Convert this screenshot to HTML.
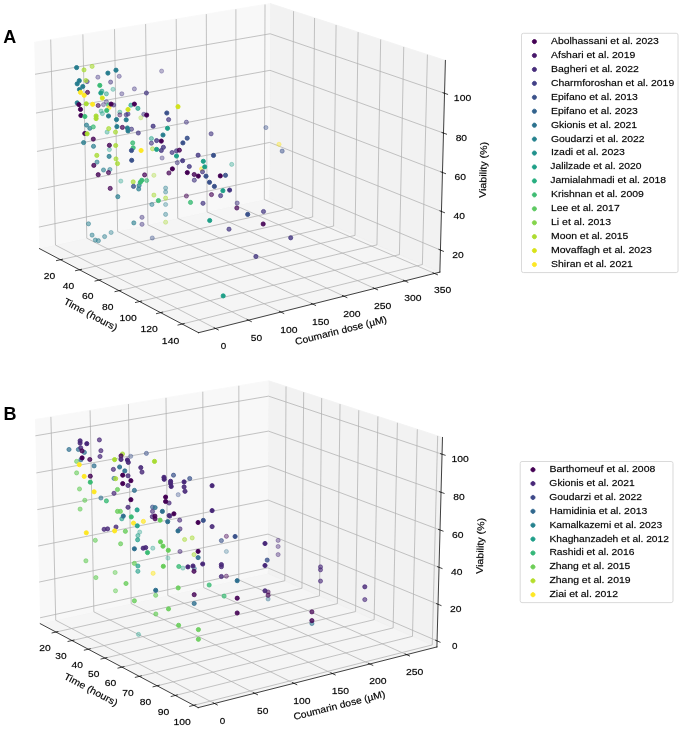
<!DOCTYPE html><html><head><meta charset="utf-8"><style>html,body{margin:0;padding:0;background:#fff;overflow:hidden}svg{display:block;filter:blur(0.3px)} text{stroke:#000;stroke-width:0.32px;stroke-opacity:0.55} text[style*="font-weight: 700"]{stroke:none}</style></head><body><svg width="685" height="731" viewBox="0 0 736.1194 785.5522" version="1.1">
 
 <defs>
  <style type="text/css">*{stroke-linejoin: round; stroke-linecap: butt}</style>
 </defs>
 <g id="figure_1">
  <g id="patch_1">
   <path d="M 0 785.552239 
L 736.119403 785.552239 
L 736.119403 0 
L 0 0 
z
" style="fill: #ffffff"/>
  </g>
  <g id="patch_2">
   <path d="M 4.734215 418.598893 
L 491.144343 418.598893 
L 491.144343 -1 
M 4.734215 -1 
L 4.734215 418.598893 
" style="fill: none"/>
  </g>
  <g id="pane3d_1">
   <g id="patch_3">
    <path d="M 42.357343 267.132373 
L 289.60652 213.12648 
L 290.478585 3.885279 
L 36.736233 45.462041 
" style="fill: #f2f2f2; opacity: 0.5; stroke: #f2f2f2; stroke-linejoin: miter"/>
   </g>
  </g>
  <g id="pane3d_2">
   <g id="patch_4">
    <path d="M 289.60652 213.12648 
L 472.685421 292.404207 
L 478.634422 64.963619 
L 290.478585 3.885279 
" style="fill: #e6e6e6; opacity: 0.5; stroke: #e6e6e6; stroke-linejoin: miter"/>
   </g>
  </g>
  <g id="pane3d_3">
   <g id="patch_5">
    <path d="M 42.357343 267.132373 
L 213.363258 357.524301 
L 472.685421 292.404207 
L 289.60652 213.12648 
" style="fill: #ececec; opacity: 0.5; stroke: #ececec; stroke-linejoin: miter"/>
   </g>
  </g>
  <g id="grid3d_1">
   <g id="Line3DCollection_1">
    <path d="M 64.987074 279.094211 
L 313.963087 223.67348 
L 315.459481 11.99447 
" style="fill: none; stroke: #b0b0b0; stroke-width: 0.8"/>
    <path d="M 85.472381 289.922529 
L 335.977456 233.206251 
L 338.051611 19.32823 
" style="fill: none; stroke: #b0b0b0; stroke-width: 0.8"/>
    <path d="M 106.455015 301.013728 
L 358.492722 242.955922 
L 361.171026 26.833155 
" style="fill: none; stroke: #b0b0b0; stroke-width: 0.8"/>
    <path d="M 127.95331 312.377501 
L 381.526177 252.929982 
L 384.836401 34.515308 
" style="fill: none; stroke: #b0b0b0; stroke-width: 0.8"/>
    <path d="M 149.98651 324.024019 
L 405.095919 263.136268 
L 409.067307 42.38104 
" style="fill: none; stroke: #b0b0b0; stroke-width: 0.8"/>
    <path d="M 172.574833 335.963968 
L 429.220897 273.582985 
L 433.884261 50.437013 
" style="fill: none; stroke: #b0b0b0; stroke-width: 0.8"/>
    <path d="M 195.739523 348.20858 
L 453.920966 284.27873 
L 459.308785 58.690213 
" style="fill: none; stroke: #b0b0b0; stroke-width: 0.8"/>
   </g>
  </g>
  <g id="grid3d_2">
   <g id="Line3DCollection_2">
    <path d="M 54.480291 42.554602 
L 59.621548 263.361405 
L 231.574004 352.951281 
" style="fill: none; stroke: #b0b0b0; stroke-width: 0.8"/>
    <path d="M 89.0617 36.888291 
L 93.278902 256.009731 
L 267.031769 344.047248 
" style="fill: none; stroke: #b0b0b0; stroke-width: 0.8"/>
    <path d="M 123.059936 31.317536 
L 126.383013 248.778899 
L 301.848904 335.304088 
" style="fill: none; stroke: #b0b0b0; stroke-width: 0.8"/>
    <path d="M 156.489627 25.839939 
L 158.947411 241.665956 
L 336.042613 326.717481 
" style="fill: none; stroke: #b0b0b0; stroke-width: 0.8"/>
    <path d="M 189.364915 20.453183 
L 190.985189 234.66804 
L 369.629492 318.283259 
" style="fill: none; stroke: #b0b0b0; stroke-width: 0.8"/>
    <path d="M 221.699479 15.155027 
L 222.509019 227.782385 
L 402.625554 309.997401 
" style="fill: none; stroke: #b0b0b0; stroke-width: 0.8"/>
    <path d="M 253.506551 9.943304 
L 253.531169 221.006311 
L 435.046252 301.856026 
" style="fill: none; stroke: #b0b0b0; stroke-width: 0.8"/>
    <path d="M 284.798933 4.815914 
L 284.06352 214.337221 
L 466.906505 293.855388 
" style="fill: none; stroke: #b0b0b0; stroke-width: 0.8"/>
   </g>
  </g>
  <g id="grid3d_3">
   <g id="Line3DCollection_3">
    <path d="M 473.304964 268.718 
L 289.697531 191.289553 
L 41.771553 244.031541 
" style="fill: none; stroke: #b0b0b0; stroke-width: 0.8"/>
    <path d="M 474.390198 227.227646 
L 289.856844 153.064366 
L 40.745664 203.575288 
" style="fill: none; stroke: #b0b0b0; stroke-width: 0.8"/>
    <path d="M 475.486251 185.323648 
L 290.017606 114.491449 
L 39.709834 162.726965 
" style="fill: none; stroke: #b0b0b0; stroke-width: 0.8"/>
    <path d="M 476.593286 142.999788 
L 290.179838 75.566036 
L 38.663916 121.480844 
" style="fill: none; stroke: #b0b0b0; stroke-width: 0.8"/>
    <path d="M 477.711469 100.249724 
L 290.343558 36.283273 
L 37.607762 79.831085 
" style="fill: none; stroke: #b0b0b0; stroke-width: 0.8"/>
   </g>
  </g>
  <g id="axis3d_1">
   <g id="line2d_1">
    <path d="M 42.357343 267.132373 
L 213.363258 357.524301 
" style="fill: none; stroke: #000000; stroke-width: 0.8; stroke-linecap: square"/>
   </g>
   <g id="xtick_1">
    <g id="line2d_2">
     <path d="M 67.108029 278.622098 
L 60.738499 280.039921 
" style="fill: none; stroke: #000000; stroke-width: 0.8; stroke-linecap: square"/>
    </g>
    <g id="text_1">
     <text style="font-size: 10.300px; font-family: 'Liberation Sans', sans-serif; text-anchor: middle" x="53.149964" y="299.315552" transform="rotate(-0 53.149964 299.315552)" dx="-0.028" textLength="12.317" lengthAdjust="spacingAndGlyphs">20</text>
    </g>
   </g>
   <g id="xtick_2">
    <g id="line2d_3">
     <path d="M 87.607919 289.439026 
L 81.194513 290.891071 
" style="fill: none; stroke: #000000; stroke-width: 0.8; stroke-linecap: square"/>
    </g>
    <g id="text_2">
     <text style="font-size: 10.300px; font-family: 'Liberation Sans', sans-serif; text-anchor: middle" x="73.530043" y="310.315084" transform="rotate(-0 73.530043 310.315084)" dx="0.001" textLength="12.255" lengthAdjust="spacingAndGlyphs">40</text>
    </g>
   </g>
   <g id="xtick_3">
    <g id="line2d_4">
     <path d="M 108.605224 300.51842 
L 102.147676 302.005939 
" style="fill: none; stroke: #000000; stroke-width: 0.8; stroke-linecap: square"/>
    </g>
    <g id="text_3">
     <text style="font-size: 10.300px; font-family: 'Liberation Sans', sans-serif; text-anchor: middle" x="94.4058" y="321.582143" transform="rotate(-0 94.4058 321.582143)" dx="-0.048" textLength="12.360" lengthAdjust="spacingAndGlyphs">60</text>
    </g>
   </g>
   <g id="xtick_4">
    <g id="line2d_5">
     <path d="M 130.11827 311.869948 
L 123.616335 313.394259 
" style="fill: none; stroke: #000000; stroke-width: 0.8; stroke-linecap: square"/>
    </g>
    <g id="text_4">
     <text style="font-size: 10.300px; font-family: 'Liberation Sans', sans-serif; text-anchor: middle" x="115.795539" y="333.126608" transform="rotate(-0 115.795539 333.126608)" dx="-0.018" textLength="12.294" lengthAdjust="spacingAndGlyphs">80</text>
    </g>
   </g>
   <g id="xtick_5">
    <g id="line2d_6">
     <path d="M 152.166296 323.503763 
L 145.619749 325.066247 
" style="fill: none; stroke: #000000; stroke-width: 0.8; stroke-linecap: square"/>
    </g>
    <g id="text_5">
     <text style="font-size: 10.300px; font-family: 'Liberation Sans', sans-serif; text-anchor: middle" x="137.718481" y="344.958853" transform="rotate(-0 137.718481 344.958853)" dx="0.009" textLength="18.610" lengthAdjust="spacingAndGlyphs">100</text>
    </g>
   </g>
   <g id="xtick_6">
    <g id="line2d_7">
     <path d="M 174.769507 335.430526 
L 168.178152 337.032636 
" style="fill: none; stroke: #000000; stroke-width: 0.8; stroke-linecap: square"/>
    </g>
    <g id="text_6">
     <text style="font-size: 10.300px; font-family: 'Liberation Sans', sans-serif; text-anchor: middle" x="160.194814" y="357.089775" transform="rotate(-0 160.194814 357.089775)" dx="0.009" textLength="18.610" lengthAdjust="spacingAndGlyphs">120</text>
    </g>
   </g>
   <g id="xtick_7">
    <g id="line2d_8">
     <path d="M 197.949142 347.661443 
L 191.312809 349.304705 
" style="fill: none; stroke: #000000; stroke-width: 0.8; stroke-linecap: square"/>
    </g>
    <g id="text_7">
     <text style="font-size: 10.300px; font-family: 'Liberation Sans', sans-serif; text-anchor: middle" x="183.245759" y="369.530826" transform="rotate(-0 183.245759 369.530826)" dx="0.009" textLength="18.610" lengthAdjust="spacingAndGlyphs">140</text>
    </g>
   </g>
   <g id="text_8">
    <text style="font-size: 10.300px; font-family: 'Liberation Sans', sans-serif; text-anchor: middle" x="96.001624" y="341.158905" transform="rotate(-332.139541 96.001624 341.158905)" dx="-0.222" textLength="63.687" lengthAdjust="spacingAndGlyphs">Time (hours)</text>
   </g>
  </g>
  <g id="axis3d_2">
   <g id="line2d_9">
    <path d="M 472.685421 292.404207 
L 213.363258 357.524301 
" style="fill: none; stroke: #000000; stroke-width: 0.8; stroke-linecap: square"/>
   </g>
   <g id="xtick_8">
    <g id="line2d_10">
     <path d="M 230.060688 352.16282 
L 234.607983 354.53203 
" style="fill: none; stroke: #000000; stroke-width: 0.8; stroke-linecap: square"/>
    </g>
    <g id="text_9">
     <text style="font-size: 10.300px; font-family: 'Liberation Sans', sans-serif; text-anchor: middle" x="240.07489" y="375.449439" transform="rotate(-0 240.07489 375.449439)" dx="-0.002" textLength="5.863" lengthAdjust="spacingAndGlyphs">0</text>
    </g>
   </g>
   <g id="xtick_9">
    <g id="line2d_11">
     <path d="M 265.503876 343.273091 
L 270.094907 345.599285 
" style="fill: none; stroke: #000000; stroke-width: 0.8; stroke-linecap: square"/>
    </g>
    <g id="text_10">
     <text style="font-size: 10.300px; font-family: 'Liberation Sans', sans-serif; text-anchor: middle" x="275.569192" y="366.380443" transform="rotate(-0 275.569192 366.380443)" dx="0.048" textLength="12.152" lengthAdjust="spacingAndGlyphs">50</text>
    </g>
   </g>
   <g id="xtick_10">
    <g id="line2d_12">
     <path d="M 300.307204 334.54385 
L 304.939653 336.828189 
" style="fill: none; stroke: #000000; stroke-width: 0.8; stroke-linecap: square"/>
    </g>
    <g id="text_11">
     <text style="font-size: 10.300px; font-family: 'Liberation Sans', sans-serif; text-anchor: middle" x="310.420155" y="357.475825" transform="rotate(-0 310.420155 357.475825)" dx="0.009" textLength="18.610" lengthAdjust="spacingAndGlyphs">100</text>
    </g>
   </g>
   <g id="xtick_11">
    <g id="line2d_13">
     <path d="M 334.487843 325.970789 
L 339.159498 328.214393 
" style="fill: none; stroke: #000000; stroke-width: 0.8; stroke-linecap: square"/>
    </g>
    <g id="text_12">
     <text style="font-size: 10.300px; font-family: 'Liberation Sans', sans-serif; text-anchor: middle" x="344.645111" y="348.731154" transform="rotate(-0 344.645111 348.731154)" dx="0.009" textLength="18.610" lengthAdjust="spacingAndGlyphs">150</text>
    </g>
   </g>
   <g id="xtick_12">
    <g id="line2d_14">
     <path d="M 368.062356 317.549754 
L 372.771102 319.753702 
" style="fill: none; stroke: #000000; stroke-width: 0.8; stroke-linecap: square"/>
    </g>
    <g id="text_13">
     <text style="font-size: 10.300px; font-family: 'Liberation Sans', sans-serif; text-anchor: middle" x="378.260778" y="340.142161" transform="rotate(-0 378.260778 340.142161)" dx="-0.029" textLength="18.690" lengthAdjust="spacingAndGlyphs">200</text>
    </g>
   </g>
   <g id="xtick_13">
    <g id="line2d_15">
     <path d="M 401.046726 309.276737 
L 405.790538 311.442072 
" style="fill: none; stroke: #000000; stroke-width: 0.8; stroke-linecap: square"/>
    </g>
    <g id="text_14">
     <text style="font-size: 10.300px; font-family: 'Liberation Sans', sans-serif; text-anchor: middle" x="411.283283" y="331.704724" transform="rotate(-0 411.283283 331.704724)" dx="-0.029" textLength="18.690" lengthAdjust="spacingAndGlyphs">250</text>
    </g>
   </g>
   <g id="xtick_14">
    <g id="line2d_16">
     <path d="M 433.456375 301.14787 
L 438.233319 303.275597 
" style="fill: none; stroke: #000000; stroke-width: 0.8; stroke-linecap: square"/>
    </g>
    <g id="text_15">
     <text style="font-size: 10.300px; font-family: 'Liberation Sans', sans-serif; text-anchor: middle" x="443.728187" y="323.414866" transform="rotate(-0 443.728187 323.414866)" dx="0.054" textLength="18.516" lengthAdjust="spacingAndGlyphs">300</text>
    </g>
   </g>
   <g id="xtick_15">
    <g id="line2d_17">
     <path d="M 465.306196 293.159416 
L 470.114421 295.250507 
" style="fill: none; stroke: #000000; stroke-width: 0.8; stroke-linecap: square"/>
    </g>
    <g id="text_16">
     <text style="font-size: 10.300px; font-family: 'Liberation Sans', sans-serif; text-anchor: middle" x="475.610515" y="315.268751" transform="rotate(-0 475.610515 315.268751)" dx="0.054" textLength="18.516" lengthAdjust="spacingAndGlyphs">350</text>
    </g>
   </g>
   <g id="text_17">
    <text style="font-size: 10.300px; font-family: 'Liberation Sans', sans-serif; text-anchor: middle" x="367.273611" y="358.420597" transform="rotate(-14.09644 367.273611 358.420597)" dx="-0.090" textLength="101.340" lengthAdjust="spacingAndGlyphs">Coumarin dose (µM)</text>
   </g>
  </g>
  <g id="axis3d_3">
   <g id="line2d_18">
    <path d="M 472.685421 292.404207 
L 478.634422 64.963619 
" style="fill: none; stroke: #000000; stroke-width: 0.8; stroke-linecap: square"/>
   </g>
   <g id="xtick_16">
    <g id="line2d_19">
     <path d="M 471.697791 268.040245 
L 476.526649 270.076605 
" style="fill: none; stroke: #000000; stroke-width: 0.8; stroke-linecap: square"/>
    </g>
    <g id="text_18">
     <text style="font-size: 10.300px; font-family: 'Liberation Sans', sans-serif; text-anchor: middle" x="492.247822" y="277.400089" transform="rotate(-0 492.247822 277.400089)" dx="-0.028" textLength="12.317" lengthAdjust="spacingAndGlyphs">20</text>
    </g>
   </g>
   <g id="xtick_17">
    <g id="line2d_20">
     <path d="M 472.774231 226.578195 
L 477.629547 228.529529 
" style="fill: none; stroke: #000000; stroke-width: 0.8; stroke-linecap: square"/>
    </g>
    <g id="text_19">
     <text style="font-size: 10.300px; font-family: 'Liberation Sans', sans-serif; text-anchor: middle" x="493.428453" y="235.864491" transform="rotate(-0 493.428453 235.864491)" dx="0.001" textLength="12.255" lengthAdjust="spacingAndGlyphs">40</text>
    </g>
   </g>
   <g id="xtick_18">
    <g id="line2d_21">
     <path d="M 473.861394 184.7031 
L 478.743458 186.567605 
" style="fill: none; stroke: #000000; stroke-width: 0.8; stroke-linecap: square"/>
    </g>
    <g id="text_20">
     <text style="font-size: 10.300px; font-family: 'Liberation Sans', sans-serif; text-anchor: middle" x="494.620869" y="193.914289" transform="rotate(-0 494.620869 193.914289)" dx="-0.048" textLength="12.360" lengthAdjust="spacingAndGlyphs">60</text>
    </g>
   </g>
   <g id="xtick_19">
    <g id="line2d_22">
     <path d="M 474.959442 142.408756 
L 479.868546 144.18459 
" style="fill: none; stroke: #000000; stroke-width: 0.8; stroke-linecap: square"/>
    </g>
    <g id="text_21">
     <text style="font-size: 10.300px; font-family: 'Liberation Sans', sans-serif; text-anchor: middle" x="495.825247" y="151.543244" transform="rotate(-0 495.825247 151.543244)" dx="-0.018" textLength="12.294" lengthAdjust="spacingAndGlyphs">80</text>
    </g>
   </g>
   <g id="xtick_20">
    <g id="line2d_23">
     <path d="M 476.068539 99.688837 
L 481.004982 101.374113 
" style="fill: none; stroke: #000000; stroke-width: 0.8; stroke-linecap: square"/>
    </g>
    <g id="text_22">
     <text style="font-size: 10.300px; font-family: 'Liberation Sans', sans-serif; text-anchor: middle" x="497.041769" y="108.744992" transform="rotate(-0 497.041769 108.744992)" dx="0.009" textLength="18.610" lengthAdjust="spacingAndGlyphs">100</text>
    </g>
   </g>
   <g id="text_23">
    <text style="font-size: 10.300px; font-family: 'Liberation Sans', sans-serif; text-anchor: middle" x="522.770266" y="182.572969" transform="rotate(-88.501697 522.770266 182.572969)" dx="-0.060" textLength="60.351" lengthAdjust="spacingAndGlyphs">Viability (%)</text>
   </g>
  </g>
  <g id="axes_1"/>
  <g id="patch_6">
   <path d="M 487.790977 786.552239 
L 487.790977 338.560933 
L 6.008628 338.560933 
L 6.008628 786.552239 
" style="fill: none"/>
  </g>
  <g id="pane3d_4">
   <g id="patch_7">
    <path d="M 43.26968 670.21701 
L 287.825924 616.21114 
L 288.696914 409.237198 
L 37.594792 450.821977 
" style="fill: #f2f2f2; opacity: 0.5; stroke: #f2f2f2; stroke-linejoin: miter"/>
   </g>
  </g>
  <g id="pane3d_5">
   <g id="patch_8">
    <path d="M 287.825924 616.21114 
L 469.515405 695.224877 
L 475.521604 470.124824 
L 288.696914 409.237198 
" style="fill: #e6e6e6; opacity: 0.5; stroke: #e6e6e6; stroke-linejoin: miter"/>
   </g>
  </g>
  <g id="pane3d_6">
   <g id="patch_9">
    <path d="M 43.26968 670.21701 
L 212.993053 760.449039 
L 469.515405 695.224877 
L 287.825924 616.21114 
" style="fill: #ececec; opacity: 0.5; stroke: #ececec; stroke-linejoin: miter"/>
   </g>
  </g>
  <g id="grid3d_4">
   <g id="Line3DCollection_4">
    <path d="M 60.183725 679.209222 
L 306.034734 624.129849 
L 307.37963 415.326041 
" style="fill: none; stroke: #b0b0b0; stroke-width: 0.8"/>
    <path d="M 77.364914 688.343459 
L 324.507844 632.163498 
L 326.342782 421.50628 
" style="fill: none; stroke: #b0b0b0; stroke-width: 0.8"/>
    <path d="M 94.90239 697.667113 
L 343.339866 640.353232 
L 345.68397 427.809725 
" style="fill: none; stroke: #b0b0b0; stroke-width: 0.8"/>
    <path d="M 112.807353 707.186139 
L 362.541364 648.703644 
L 365.414614 434.240096 
" style="fill: none; stroke: #b0b0b0; stroke-width: 0.8"/>
    <path d="M 131.091475 716.906741 
L 382.123318 657.219511 
L 385.546596 440.801266 
" style="fill: none; stroke: #b0b0b0; stroke-width: 0.8"/>
    <path d="M 149.766928 726.835392 
L 402.097149 665.905798 
L 406.092288 447.497267 
" style="fill: none; stroke: #b0b0b0; stroke-width: 0.8"/>
    <path d="M 168.846413 736.978842 
L 422.474739 674.767673 
L 427.064573 454.332299 
" style="fill: none; stroke: #b0b0b0; stroke-width: 0.8"/>
    <path d="M 188.343184 747.344139 
L 443.268455 683.810515 
L 448.476879 461.310737 
" style="fill: none; stroke: #b0b0b0; stroke-width: 0.8"/>
    <path d="M 208.271081 757.938641 
L 464.491177 693.039924 
L 470.343199 468.437141 
" style="fill: none; stroke: #b0b0b0; stroke-width: 0.8"/>
   </g>
  </g>
  <g id="grid3d_5">
   <g id="Line3DCollection_5">
    <path d="M 54.697871 447.989552 
L 59.901251 666.544225 
L 230.540419 755.987391 
" style="fill: none; stroke: #b0b0b0; stroke-width: 0.8"/>
    <path d="M 96.804651 441.016289 
L 100.863169 657.498518 
L 273.694057 745.015015 
" style="fill: none; stroke: #b0b0b0; stroke-width: 0.8"/>
    <path d="M 138.029478 434.189086 
L 140.989122 648.63742 
L 315.879239 734.288881 
" style="fill: none; stroke: #b0b0b0; stroke-width: 0.8"/>
    <path d="M 178.399777 427.5034 
L 180.304443 639.955335 
L 357.128206 723.800792 
" style="fill: none; stroke: #b0b0b0; stroke-width: 0.8"/>
    <path d="M 217.941843 420.954877 
L 218.833452 631.446893 
L 397.471781 713.54291 
" style="fill: none; stroke: #b0b0b0; stroke-width: 0.8"/>
    <path d="M 256.680905 414.539338 
L 256.599505 623.106936 
L 436.939451 703.50774 
" style="fill: none; stroke: #b0b0b0; stroke-width: 0.8"/>
   </g>
  </g>
  <g id="grid3d_6">
   <g id="Line3DCollection_6">
    <path d="M 469.689067 688.716366 
L 287.851167 610.212642 
L 43.105475 663.868728 
" style="fill: none; stroke: #b0b0b0; stroke-width: 0.8"/>
    <path d="M 470.738897 649.37091 
L 288.003691 573.968223 
L 42.112972 625.497889 
" style="fill: none; stroke: #b0b0b0; stroke-width: 0.8"/>
    <path d="M 471.798967 609.641621 
L 288.157572 537.401352 
L 41.111056 586.763161 
" style="fill: none; stroke: #b0b0b0; stroke-width: 0.8"/>
    <path d="M 472.869431 569.522853 
L 288.312828 500.507707 
L 40.099594 547.659345 
" style="fill: none; stroke: #b0b0b0; stroke-width: 0.8"/>
    <path d="M 473.95044 529.008853 
L 288.469478 463.282889 
L 39.078448 508.181138 
" style="fill: none; stroke: #b0b0b0; stroke-width: 0.8"/>
    <path d="M 475.042151 488.09375 
L 288.627541 425.722418 
L 38.047478 468.323139 
" style="fill: none; stroke: #b0b0b0; stroke-width: 0.8"/>
   </g>
  </g>
  <g id="axis3d_4">
   <g id="line2d_24">
    <path d="M 43.26968 670.21701 
L 212.993053 760.449039 
" style="fill: none; stroke: #000000; stroke-width: 0.8; stroke-linecap: square"/>
   </g>
   <g id="xtick_21">
    <g id="line2d_25">
     <path d="M 62.279162 678.739769 
L 55.986208 680.149615 
" style="fill: none; stroke: #000000; stroke-width: 0.8; stroke-linecap: square"/>
    </g>
    <g id="text_24">
     <text style="font-size: 10.300px; font-family: 'Liberation Sans', sans-serif; text-anchor: middle" x="48.387131" y="699.400597" transform="rotate(-0 48.387131 699.400597)" dx="-0.028" textLength="12.317" lengthAdjust="spacingAndGlyphs">20</text>
    </g>
   </g>
   <g id="xtick_22">
    <g id="line2d_26">
     <path d="M 79.472689 687.864324 
L 73.142614 689.303262 
" style="fill: none; stroke: #000000; stroke-width: 0.8; stroke-linecap: square"/>
    </g>
    <g id="text_25">
     <text style="font-size: 10.300px; font-family: 'Liberation Sans', sans-serif; text-anchor: middle" x="65.478439" y="708.680993" transform="rotate(-0 65.478439 708.680993)" dx="0.054" textLength="12.140" lengthAdjust="spacingAndGlyphs">30</text>
    </g>
   </g>
   <g id="xtick_23">
    <g id="line2d_27">
     <path d="M 97.022567 697.177994 
L 90.655177 698.646934 
" style="fill: none; stroke: #000000; stroke-width: 0.8; stroke-linecap: square"/>
    </g>
    <g id="text_26">
     <text style="font-size: 10.300px; font-family: 'Liberation Sans', sans-serif; text-anchor: middle" x="82.924826" y="718.154194" transform="rotate(-0 82.924826 718.154194)" dx="0.001" textLength="12.255" lengthAdjust="spacingAndGlyphs">40</text>
    </g>
   </g>
   <g id="xtick_24">
    <g id="line2d_28">
     <path d="M 114.939991 706.68672 
L 108.535105 708.18661 
" style="fill: none; stroke: #000000; stroke-width: 0.8; stroke-linecap: square"/>
    </g>
    <g id="text_27">
     <text style="font-size: 10.300px; font-family: 'Liberation Sans', sans-serif; text-anchor: middle" x="100.737472" y="727.826269" transform="rotate(-0 100.737472 727.826269)" dx="0.048" textLength="12.152" lengthAdjust="spacingAndGlyphs">50</text>
    </g>
   </g>
   <g id="xtick_25">
    <g id="line2d_29">
     <path d="M 133.236629 716.396693 
L 126.794078 717.928523 
" style="fill: none; stroke: #000000; stroke-width: 0.8; stroke-linecap: square"/>
    </g>
    <g id="text_28">
     <text style="font-size: 10.300px; font-family: 'Liberation Sans', sans-serif; text-anchor: middle" x="118.928033" y="737.703548" transform="rotate(-0 118.928033 737.703548)" dx="-0.048" textLength="12.360" lengthAdjust="spacingAndGlyphs">60</text>
    </g>
   </g>
   <g id="xtick_26">
    <g id="line2d_30">
     <path d="M 151.92465 726.314372 
L 145.44428 727.879172 
" style="fill: none; stroke: #000000; stroke-width: 0.8; stroke-linecap: square"/>
    </g>
    <g id="text_29">
     <text style="font-size: 10.300px; font-family: 'Liberation Sans', sans-serif; text-anchor: middle" x="137.508666" y="747.792632" transform="rotate(-0 137.508666 747.792632)" dx="0.011" textLength="12.233" lengthAdjust="spacingAndGlyphs">70</text>
    </g>
   </g>
   <g id="xtick_27">
    <g id="line2d_31">
     <path d="M 171.016746 736.446493 
L 164.498421 738.045339 
" style="fill: none; stroke: #000000; stroke-width: 0.8; stroke-linecap: square"/>
    </g>
    <g id="text_30">
     <text style="font-size: 10.300px; font-family: 'Liberation Sans', sans-serif; text-anchor: middle" x="156.492053" y="758.100407" transform="rotate(-0 156.492053 758.100407)" dx="-0.018" textLength="12.294" lengthAdjust="spacingAndGlyphs">80</text>
    </g>
   </g>
   <g id="xtick_28">
    <g id="line2d_32">
     <path d="M 190.526167 746.800086 
L 183.969768 748.434102 
" style="fill: none; stroke: #000000; stroke-width: 0.8; stroke-linecap: square"/>
    </g>
    <g id="text_31">
     <text style="font-size: 10.300px; font-family: 'Liberation Sans', sans-serif; text-anchor: middle" x="175.891433" y="768.634062" transform="rotate(-0 175.891433 768.634062)" dx="-0.061" textLength="12.388" lengthAdjust="spacingAndGlyphs">90</text>
    </g>
   </g>
   <g id="xtick_29">
    <g id="line2d_33">
     <path d="M 210.466747 757.382495 
L 203.872174 759.052853 
" style="fill: none; stroke: #000000; stroke-width: 0.8; stroke-linecap: square"/>
    </g>
    <g id="text_32">
     <text style="font-size: 10.300px; font-family: 'Liberation Sans', sans-serif; text-anchor: middle" x="195.720631" y="779.401103" transform="rotate(-0 195.720631 779.401103)" dx="0.009" textLength="18.610" lengthAdjust="spacingAndGlyphs">100</text>
    </g>
   </g>
   <g id="text_33">
    <text style="font-size: 10.300px; font-family: 'Liberation Sans', sans-serif; text-anchor: middle" x="96.28064" y="744.194837" transform="rotate(-332.003024 96.28064 744.194837)" dx="-0.222" textLength="63.687" lengthAdjust="spacingAndGlyphs">Time (hours)</text>
   </g>
  </g>
  <g id="axis3d_5">
   <g id="line2d_34">
    <path d="M 469.515405 695.224877 
L 212.993053 760.449039 
" style="fill: none; stroke: #000000; stroke-width: 0.8; stroke-linecap: square"/>
   </g>
   <g id="xtick_30">
    <g id="line2d_35">
     <path d="M 229.037375 755.199547 
L 233.553875 757.566941 
" style="fill: none; stroke: #000000; stroke-width: 0.8; stroke-linecap: square"/>
    </g>
    <g id="text_34">
     <text style="font-size: 10.300px; font-family: 'Liberation Sans', sans-serif; text-anchor: middle" x="239.065881" y="778.51864" transform="rotate(-0 239.065881 778.51864)" dx="-0.002" textLength="5.863" lengthAdjust="spacingAndGlyphs">0</text>
    </g>
   </g>
   <g id="xtick_31">
    <g id="line2d_36">
     <path d="M 272.173291 744.244944 
L 276.742957 746.558889 
" style="fill: none; stroke: #000000; stroke-width: 0.8; stroke-linecap: square"/>
    </g>
    <g id="text_35">
     <text style="font-size: 10.300px; font-family: 'Liberation Sans', sans-serif; text-anchor: middle" x="282.263324" y="767.34043" transform="rotate(-0 282.263324 767.34043)" dx="0.048" textLength="12.152" lengthAdjust="spacingAndGlyphs">50</text>
    </g>
   </g>
   <g id="xtick_32">
    <g id="line2d_37">
     <path d="M 314.341921 733.535988 
L 318.961241 735.798274 
" style="fill: none; stroke: #000000; stroke-width: 0.8; stroke-linecap: square"/>
    </g>
    <g id="text_36">
     <text style="font-size: 10.300px; font-family: 'Liberation Sans', sans-serif; text-anchor: middle" x="324.4882" y="756.41389" transform="rotate(-0 324.4882 756.41389)" dx="0.009" textLength="18.610" lengthAdjust="spacingAndGlyphs">100</text>
    </g>
   </g>
   <g id="xtick_33">
    <g id="line2d_38">
     <path d="M 355.57544 723.064509 
L 360.241095 725.276847 
" style="fill: none; stroke: #000000; stroke-width: 0.8; stroke-linecap: square"/>
    </g>
    <g id="text_37">
     <text style="font-size: 10.300px; font-family: 'Liberation Sans', sans-serif; text-anchor: middle" x="365.772988" y="745.730617" transform="rotate(-0 365.772988 745.730617)" dx="0.009" textLength="18.610" lengthAdjust="spacingAndGlyphs">150</text>
    </g>
   </g>
   <g id="xtick_34">
    <g id="line2d_39">
     <path d="M 395.904611 712.822693 
L 400.613464 714.98672 
" style="fill: none; stroke: #000000; stroke-width: 0.8; stroke-linecap: square"/>
    </g>
    <g id="text_38">
     <text style="font-size: 10.300px; font-family: 'Liberation Sans', sans-serif; text-anchor: middle" x="406.148738" y="735.282576" transform="rotate(-0 406.148738 735.282576)" dx="-0.029" textLength="18.690" lengthAdjust="spacingAndGlyphs">200</text>
    </g>
   </g>
   <g id="xtick_35">
    <g id="line2d_40">
     <path d="M 435.358865 702.803068 
L 440.107948 704.920348 
" style="fill: none; stroke: #000000; stroke-width: 0.8; stroke-linecap: square"/>
    </g>
    <g id="text_39">
     <text style="font-size: 10.300px; font-family: 'Liberation Sans', sans-serif; text-anchor: middle" x="445.645147" y="725.062083" transform="rotate(-0 445.645147 725.062083)" dx="-0.029" textLength="18.690" lengthAdjust="spacingAndGlyphs">250</text>
    </g>
   </g>
   <g id="text_40">
    <text style="font-size: 10.300px; font-family: 'Liberation Sans', sans-serif; text-anchor: middle" x="365.568915" y="761.328256" transform="rotate(-14.2659 365.568915 761.328256)" dx="-0.090" textLength="101.340" lengthAdjust="spacingAndGlyphs">Coumarin dose (µM)</text>
   </g>
  </g>
  <g id="axis3d_6">
   <g id="line2d_41">
    <path d="M 469.515405 695.224877 
L 475.521604 470.124824 
" style="fill: none; stroke: #000000; stroke-width: 0.8; stroke-linecap: square"/>
   </g>
   <g id="xtick_36">
    <g id="line2d_42">
     <path d="M 468.0965 688.028817 
L 472.881521 690.094624 
" style="fill: none; stroke: #000000; stroke-width: 0.8; stroke-linecap: square"/>
    </g>
    <g id="text_41">
     <text style="font-size: 10.300px; font-family: 'Liberation Sans', sans-serif; text-anchor: middle" x="488.593945" y="697.415975" transform="rotate(-0 488.593945 697.415975)" dx="-0.002" textLength="5.863" lengthAdjust="spacingAndGlyphs">0</text>
    </g>
   </g>
   <g id="xtick_37">
    <g id="line2d_43">
     <path d="M 469.137799 648.710243 
L 473.948487 650.695295 
" style="fill: none; stroke: #000000; stroke-width: 0.8; stroke-linecap: square"/>
    </g>
    <g id="text_42">
     <text style="font-size: 10.300px; font-family: 'Liberation Sans', sans-serif; text-anchor: middle" x="489.736944" y="658.027475" transform="rotate(-0 489.736944 658.027475)" dx="-0.028" textLength="12.317" lengthAdjust="spacingAndGlyphs">20</text>
    </g>
   </g>
   <g id="xtick_38">
    <g id="line2d_44">
     <path d="M 470.189248 609.008394 
L 475.025878 610.911012 
" style="fill: none; stroke: #000000; stroke-width: 0.8; stroke-linecap: square"/>
    </g>
    <g id="text_43">
     <text style="font-size: 10.300px; font-family: 'Liberation Sans', sans-serif; text-anchor: middle" x="490.891107" y="618.254247" transform="rotate(-0 490.891107 618.254247)" dx="0.001" textLength="12.255" lengthAdjust="spacingAndGlyphs">40</text>
    </g>
   </g>
   <g id="xtick_39">
    <g id="line2d_45">
     <path d="M 471.250997 568.917638 
L 476.113847 570.736106 
" style="fill: none; stroke: #000000; stroke-width: 0.8; stroke-linecap: square"/>
    </g>
    <g id="text_44">
     <text style="font-size: 10.300px; font-family: 'Liberation Sans', sans-serif; text-anchor: middle" x="492.056599" y="578.090625" transform="rotate(-0 492.056599 578.090625)" dx="-0.048" textLength="12.360" lengthAdjust="spacingAndGlyphs">60</text>
    </g>
   </g>
   <g id="xtick_40">
    <g id="line2d_46">
     <path d="M 472.323197 528.432233 
L 477.212551 530.164796 
" style="fill: none; stroke: #000000; stroke-width: 0.8; stroke-linecap: square"/>
    </g>
    <g id="text_45">
     <text style="font-size: 10.300px; font-family: 'Liberation Sans', sans-serif; text-anchor: middle" x="493.233587" y="537.530835" transform="rotate(-0 493.233587 537.530835)" dx="-0.018" textLength="12.294" lengthAdjust="spacingAndGlyphs">80</text>
    </g>
   </g>
   <g id="xtick_41">
    <g id="line2d_47">
     <path d="M 473.406005 487.546322 
L 478.32215 489.191185 
" style="fill: none; stroke: #000000; stroke-width: 0.8; stroke-linecap: square"/>
    </g>
    <g id="text_46">
     <text style="font-size: 10.300px; font-family: 'Liberation Sans', sans-serif; text-anchor: middle" x="494.422242" y="496.568986" transform="rotate(-0 494.422242 496.568986)" dx="0.009" textLength="18.610" lengthAdjust="spacingAndGlyphs">100</text>
    </g>
   </g>
   <g id="text_47">
    <text style="font-size: 10.300px; font-family: 'Liberation Sans', sans-serif; text-anchor: middle" x="519.642295" y="586.576781" transform="rotate(-88.471576 519.642295 586.576781)" dx="-0.060" textLength="60.351" lengthAdjust="spacingAndGlyphs">Viability (%)</text>
   </g>
  </g>
  <g id="axes_2"/>
  <g id="axes_3">
   <g id="PathCollection_1"/>
   <g id="PathCollection_2"/>
   <g id="PathCollection_3"/>
   <g id="PathCollection_4"/>
   <g id="PathCollection_5"/>
   <g id="PathCollection_6"/>
   <g id="PathCollection_7"/>
   <g id="PathCollection_8"/>
   <g id="PathCollection_9"/>
   <g id="PathCollection_10"/>
   <g id="PathCollection_11"/>
   <g id="PathCollection_12"/>
   <g id="PathCollection_13"/>
   <g id="PathCollection_14"/>
   <g id="PathCollection_15"/>
   <g id="PathCollection_16"/>
   <g id="PathCollection_17"/>
  </g>
  <g id="axes_4">
   <g id="PathCollection_18"/>
   <g id="PathCollection_19"/>
   <g id="PathCollection_20"/>
   <g id="PathCollection_21"/>
   <g id="PathCollection_22"/>
   <g id="PathCollection_23"/>
   <g id="PathCollection_24"/>
   <g id="PathCollection_25"/>
   <g id="PathCollection_26"/>
   <g id="PathCollection_27"/>
  </g>
  <g id="text_48">
   <text style="font-weight: 700; font-size: 19.343px; font-family: 'Liberation Sans', sans-serif; text-anchor: start" x="3.438806" y="45.671642" transform="rotate(-0 3.438806 45.671642)">A</text>
  </g>
  <g id="text_49">
   <text style="font-weight: 700; font-size: 19.343px; font-family: 'Liberation Sans', sans-serif; text-anchor: start" x="3.761194" y="451.343284" transform="rotate(-0 3.761194 451.343284)">B</text>
  </g>
  <g id="legend_1">
   <g id="patch_10">
    <path d="M 562.39791 292.915918 
L 726.662114 292.915918 
Q 728.642114 292.915918 728.642114 290.935918 
L 728.642114 37.765075 
Q 728.642114 35.785075 726.662114 35.785075 
L 562.39791 35.785075 
Q 560.41791 35.785075 560.41791 37.765075 
L 560.41791 290.935918 
Q 560.41791 292.915918 562.39791 292.915918 
z
" style="fill: #ffffff; opacity: 0.8; stroke: #cccccc; stroke-linejoin: miter"/>
   </g>
   <g id="PathCollection_28">
    <defs>
     <path id="md49803a651" d="M 0 2.236068 
C 0.593012 2.236068 1.161816 2.000462 1.581139 1.581139 
C 2.000462 1.161816 2.236068 0.593012 2.236068 0 
C 2.236068 -0.593012 2.000462 -1.161816 1.581139 -1.581139 
C 1.161816 -2.000462 0.593012 -2.236068 0 -2.236068 
C -0.593012 -2.236068 -1.161816 -2.000462 -1.581139 -1.581139 
C -2.000462 -1.161816 -2.236068 -0.593012 -2.236068 0 
C -2.236068 0.593012 -2.000462 1.161816 -1.581139 1.581139 
C -1.161816 2.000462 -0.593012 2.236068 0 2.236068 
z
" style="stroke: #440154"/>
    </defs>
    <g>
     <use href="#md49803a651" x="574.27791" y="44.668778" style="fill: #440154; stroke: #440154"/>
    </g>
   </g>
   <g id="text_50">
    <text style="font-size: 10.197px; font-family: 'Liberation Sans', sans-serif; text-anchor: start" x="592.09791" y="47.267528" transform="rotate(-0 592.09791 47.267528)" dx="0.055" textLength="115.819" lengthAdjust="spacingAndGlyphs">Abolhassani et al. 2023</text>
   </g>
   <g id="PathCollection_29">
    <defs>
     <path id="m46557fef45" d="M 0 2.236068 
C 0.593012 2.236068 1.161816 2.000462 1.581139 1.581139 
C 2.000462 1.161816 2.236068 0.593012 2.236068 0 
C 2.236068 -0.593012 2.000462 -1.161816 1.581139 -1.581139 
C 1.161816 -2.000462 0.593012 -2.236068 0 -2.236068 
C -0.593012 -2.236068 -1.161816 -2.000462 -1.581139 -1.581139 
C -2.000462 -1.161816 -2.236068 -0.593012 -2.236068 0 
C -2.236068 0.593012 -2.000462 1.161816 -1.581139 1.581139 
C -1.161816 2.000462 -0.593012 2.236068 0 2.236068 
z
" style="stroke: #48186a"/>
    </defs>
    <g>
     <use href="#m46557fef45" x="574.27791" y="59.645622" style="fill: #48186a; stroke: #48186a"/>
    </g>
   </g>
   <g id="text_51">
    <text style="font-size: 10.197px; font-family: 'Liberation Sans', sans-serif; text-anchor: start" x="592.09791" y="62.244372" transform="rotate(-0 592.09791 62.244372)" dx="0.055" textLength="90.567" lengthAdjust="spacingAndGlyphs">Afshari et al. 2019</text>
   </g>
   <g id="PathCollection_30">
    <defs>
     <path id="mb98866baf7" d="M 0 2.236068 
C 0.593012 2.236068 1.161816 2.000462 1.581139 1.581139 
C 2.000462 1.161816 2.236068 0.593012 2.236068 0 
C 2.236068 -0.593012 2.000462 -1.161816 1.581139 -1.581139 
C 1.161816 -2.000462 0.593012 -2.236068 0 -2.236068 
C -0.593012 -2.236068 -1.161816 -2.000462 -1.581139 -1.581139 
C -2.000462 -1.161816 -2.236068 -0.593012 -2.236068 0 
C -2.236068 0.593012 -2.000462 1.161816 -1.581139 1.581139 
C -1.161816 2.000462 -0.593012 2.236068 0 2.236068 
z
" style="stroke: #472d7b"/>
    </defs>
    <g>
     <use href="#mb98866baf7" x="574.27791" y="74.622465" style="fill: #472d7b; stroke: #472d7b"/>
    </g>
   </g>
   <g id="text_52">
    <text style="font-size: 10.197px; font-family: 'Liberation Sans', sans-serif; text-anchor: start" x="592.09791" y="77.221215" transform="rotate(-0 592.09791 77.221215)" dx="0.049" textLength="94.418" lengthAdjust="spacingAndGlyphs">Bagheri et al. 2022</text>
   </g>
   <g id="PathCollection_31">
    <defs>
     <path id="m2b4d0cf0e3" d="M 0 2.236068 
C 0.593012 2.236068 1.161816 2.000462 1.581139 1.581139 
C 2.000462 1.161816 2.236068 0.593012 2.236068 0 
C 2.236068 -0.593012 2.000462 -1.161816 1.581139 -1.581139 
C 1.161816 -2.000462 0.593012 -2.236068 0 -2.236068 
C -0.593012 -2.236068 -1.161816 -2.000462 -1.581139 -1.581139 
C -2.000462 -1.161816 -2.236068 -0.593012 -2.236068 0 
C -2.236068 0.593012 -2.000462 1.161816 -1.581139 1.581139 
C -1.161816 2.000462 -0.593012 2.236068 0 2.236068 
z
" style="stroke: #424086"/>
    </defs>
    <g>
     <use href="#m2b4d0cf0e3" x="574.27791" y="89.599309" style="fill: #424086; stroke: #424086"/>
    </g>
   </g>
   <g id="text_53">
    <text style="font-size: 10.197px; font-family: 'Liberation Sans', sans-serif; text-anchor: start" x="592.09791" y="92.198059" transform="rotate(-0 592.09791 92.198059)" dx="-0.013" textLength="132.423" lengthAdjust="spacingAndGlyphs">Charmforoshan et al. 2019</text>
   </g>
   <g id="PathCollection_32">
    <defs>
     <path id="m8dd3852c70" d="M 0 2.236068 
C 0.593012 2.236068 1.161816 2.000462 1.581139 1.581139 
C 2.000462 1.161816 2.236068 0.593012 2.236068 0 
C 2.236068 -0.593012 2.000462 -1.161816 1.581139 -1.581139 
C 1.161816 -2.000462 0.593012 -2.236068 0 -2.236068 
C -0.593012 -2.236068 -1.161816 -2.000462 -1.581139 -1.581139 
C -2.000462 -1.161816 -2.236068 -0.593012 -2.236068 0 
C -2.236068 0.593012 -2.000462 1.161816 -1.581139 1.581139 
C -1.161816 2.000462 -0.593012 2.236068 0 2.236068 
z
" style="stroke: #3b528b"/>
    </defs>
    <g>
     <use href="#m8dd3852c70" x="574.27791" y="104.576153" style="fill: #3b528b; stroke: #3b528b"/>
    </g>
   </g>
   <g id="text_54">
    <text style="font-size: 10.197px; font-family: 'Liberation Sans', sans-serif; text-anchor: start" x="592.09791" y="107.174903" transform="rotate(-0 592.09791 107.174903)" dx="0.053" textLength="93.385" lengthAdjust="spacingAndGlyphs">Epifano et al. 2013</text>
   </g>
   <g id="PathCollection_33">
    <defs>
     <path id="md983ce4442" d="M 0 2.236068 
C 0.593012 2.236068 1.161816 2.000462 1.581139 1.581139 
C 2.000462 1.161816 2.236068 0.593012 2.236068 0 
C 2.236068 -0.593012 2.000462 -1.161816 1.581139 -1.581139 
C 1.161816 -2.000462 0.593012 -2.236068 0 -2.236068 
C -0.593012 -2.236068 -1.161816 -2.000462 -1.581139 -1.581139 
C -2.000462 -1.161816 -2.236068 -0.593012 -2.236068 0 
C -2.236068 0.593012 -2.000462 1.161816 -1.581139 1.581139 
C -1.161816 2.000462 -0.593012 2.236068 0 2.236068 
z
" style="stroke: #33638d"/>
    </defs>
    <g>
     <use href="#md983ce4442" x="574.27791" y="119.552997" style="fill: #33638d; stroke: #33638d"/>
    </g>
   </g>
   <g id="text_55">
    <text style="font-size: 10.197px; font-family: 'Liberation Sans', sans-serif; text-anchor: start" x="592.09791" y="122.151747" transform="rotate(-0 592.09791 122.151747)" dx="0.053" textLength="93.385" lengthAdjust="spacingAndGlyphs">Epifano et al. 2023</text>
   </g>
   <g id="PathCollection_34">
    <defs>
     <path id="mca73c1abf9" d="M 0 2.236068 
C 0.593012 2.236068 1.161816 2.000462 1.581139 1.581139 
C 2.000462 1.161816 2.236068 0.593012 2.236068 0 
C 2.236068 -0.593012 2.000462 -1.161816 1.581139 -1.581139 
C 1.161816 -2.000462 0.593012 -2.236068 0 -2.236068 
C -0.593012 -2.236068 -1.161816 -2.000462 -1.581139 -1.581139 
C -2.000462 -1.161816 -2.236068 -0.593012 -2.236068 0 
C -2.236068 0.593012 -2.000462 1.161816 -1.581139 1.581139 
C -1.161816 2.000462 -0.593012 2.236068 0 2.236068 
z
" style="stroke: #2c728e"/>
    </defs>
    <g>
     <use href="#mca73c1abf9" x="574.27791" y="134.52984" style="fill: #2c728e; stroke: #2c728e"/>
    </g>
   </g>
   <g id="text_56">
    <text style="font-size: 10.197px; font-family: 'Liberation Sans', sans-serif; text-anchor: start" x="592.09791" y="137.12859" transform="rotate(-0 592.09791 137.12859)" dx="-0.007" textLength="92.600" lengthAdjust="spacingAndGlyphs">Gkionis et al. 2021</text>
   </g>
   <g id="PathCollection_35">
    <defs>
     <path id="mde079d5b97" d="M 0 2.236068 
C 0.593012 2.236068 1.161816 2.000462 1.581139 1.581139 
C 2.000462 1.161816 2.236068 0.593012 2.236068 0 
C 2.236068 -0.593012 2.000462 -1.161816 1.581139 -1.581139 
C 1.161816 -2.000462 0.593012 -2.236068 0 -2.236068 
C -0.593012 -2.236068 -1.161816 -2.000462 -1.581139 -1.581139 
C -2.000462 -1.161816 -2.236068 -0.593012 -2.236068 0 
C -2.236068 0.593012 -2.000462 1.161816 -1.581139 1.581139 
C -1.161816 2.000462 -0.593012 2.236068 0 2.236068 
z
" style="stroke: #26828e"/>
    </defs>
    <g>
     <use href="#mde079d5b97" x="574.27791" y="149.506684" style="fill: #26828e; stroke: #26828e"/>
    </g>
   </g>
   <g id="text_57">
    <text style="font-size: 10.197px; font-family: 'Liberation Sans', sans-serif; text-anchor: start" x="592.09791" y="152.105434" transform="rotate(-0 592.09791 152.105434)" dx="-0.006" textLength="100.511" lengthAdjust="spacingAndGlyphs">Goudarzi et al. 2022</text>
   </g>
   <g id="PathCollection_36">
    <defs>
     <path id="mc71ad0ed1f" d="M 0 2.236068 
C 0.593012 2.236068 1.161816 2.000462 1.581139 1.581139 
C 2.000462 1.161816 2.236068 0.593012 2.236068 0 
C 2.236068 -0.593012 2.000462 -1.161816 1.581139 -1.581139 
C 1.161816 -2.000462 0.593012 -2.236068 0 -2.236068 
C -0.593012 -2.236068 -1.161816 -2.000462 -1.581139 -1.581139 
C -2.000462 -1.161816 -2.236068 -0.593012 -2.236068 0 
C -2.236068 0.593012 -2.000462 1.161816 -1.581139 1.581139 
C -1.161816 2.000462 -0.593012 2.236068 0 2.236068 
z
" style="stroke: #21918c"/>
    </defs>
    <g>
     <use href="#mc71ad0ed1f" x="574.27791" y="164.483528" style="fill: #21918c; stroke: #21918c"/>
    </g>
   </g>
   <g id="text_58">
    <text style="font-size: 10.197px; font-family: 'Liberation Sans', sans-serif; text-anchor: start" x="592.09791" y="167.082278" transform="rotate(-0 592.09791 167.082278)" dx="-0.069" textLength="79.555" lengthAdjust="spacingAndGlyphs">Izadi et al. 2023</text>
   </g>
   <g id="PathCollection_37">
    <defs>
     <path id="m9ca972f852" d="M 0 2.236068 
C 0.593012 2.236068 1.161816 2.000462 1.581139 1.581139 
C 2.000462 1.161816 2.236068 0.593012 2.236068 0 
C 2.236068 -0.593012 2.000462 -1.161816 1.581139 -1.581139 
C 1.161816 -2.000462 0.593012 -2.236068 0 -2.236068 
C -0.593012 -2.236068 -1.161816 -2.000462 -1.581139 -1.581139 
C -2.000462 -1.161816 -2.236068 -0.593012 -2.236068 0 
C -2.236068 0.593012 -2.000462 1.161816 -1.581139 1.581139 
C -1.161816 2.000462 -0.593012 2.236068 0 2.236068 
z
" style="stroke: #1fa088"/>
    </defs>
    <g>
     <use href="#m9ca972f852" x="574.27791" y="179.460372" style="fill: #1fa088; stroke: #1fa088"/>
    </g>
   </g>
   <g id="text_59">
    <text style="font-size: 10.197px; font-family: 'Liberation Sans', sans-serif; text-anchor: start" x="592.09791" y="182.059122" transform="rotate(-0 592.09791 182.059122)" dx="-0.685" textLength="97.903" lengthAdjust="spacingAndGlyphs">Jalilzade et al. 2020</text>
   </g>
   <g id="PathCollection_38">
    <defs>
     <path id="m5232d5b7da" d="M 0 2.236068 
C 0.593012 2.236068 1.161816 2.000462 1.581139 1.581139 
C 2.000462 1.161816 2.236068 0.593012 2.236068 0 
C 2.236068 -0.593012 2.000462 -1.161816 1.581139 -1.581139 
C 1.161816 -2.000462 0.593012 -2.236068 0 -2.236068 
C -0.593012 -2.236068 -1.161816 -2.000462 -1.581139 -1.581139 
C -2.000462 -1.161816 -2.236068 -0.593012 -2.236068 0 
C -2.236068 0.593012 -2.000462 1.161816 -1.581139 1.581139 
C -1.161816 2.000462 -0.593012 2.236068 0 2.236068 
z
" style="stroke: #28ae80"/>
    </defs>
    <g>
     <use href="#m5232d5b7da" x="574.27791" y="194.437215" style="fill: #28ae80; stroke: #28ae80"/>
    </g>
   </g>
   <g id="text_60">
    <text style="font-size: 10.197px; font-family: 'Liberation Sans', sans-serif; text-anchor: start" x="592.09791" y="197.035965" transform="rotate(-0 592.09791 197.035965)" dx="-0.687" textLength="124.343" lengthAdjust="spacingAndGlyphs">Jamialahmadi et al. 2018</text>
   </g>
   <g id="PathCollection_39">
    <defs>
     <path id="m2dbe42aa44" d="M 0 2.236068 
C 0.593012 2.236068 1.161816 2.000462 1.581139 1.581139 
C 2.000462 1.161816 2.236068 0.593012 2.236068 0 
C 2.236068 -0.593012 2.000462 -1.161816 1.581139 -1.581139 
C 1.161816 -2.000462 0.593012 -2.236068 0 -2.236068 
C -0.593012 -2.236068 -1.161816 -2.000462 -1.581139 -1.581139 
C -2.000462 -1.161816 -2.236068 -0.593012 -2.236068 0 
C -2.236068 0.593012 -2.000462 1.161816 -1.581139 1.581139 
C -1.161816 2.000462 -0.593012 2.236068 0 2.236068 
z
" style="stroke: #3fbc73"/>
    </defs>
    <g>
     <use href="#m2dbe42aa44" x="574.27791" y="209.414059" style="fill: #3fbc73; stroke: #3fbc73"/>
    </g>
   </g>
   <g id="text_61">
    <text style="font-size: 10.197px; font-family: 'Liberation Sans', sans-serif; text-anchor: start" x="592.09791" y="212.012809" transform="rotate(-0 592.09791 212.012809)" dx="0.052" textLength="99.709" lengthAdjust="spacingAndGlyphs">Krishnan et al. 2009</text>
   </g>
   <g id="PathCollection_40">
    <defs>
     <path id="mb0f88179cb" d="M 0 2.236068 
C 0.593012 2.236068 1.161816 2.000462 1.581139 1.581139 
C 2.000462 1.161816 2.236068 0.593012 2.236068 0 
C 2.236068 -0.593012 2.000462 -1.161816 1.581139 -1.581139 
C 1.161816 -2.000462 0.593012 -2.236068 0 -2.236068 
C -0.593012 -2.236068 -1.161816 -2.000462 -1.581139 -1.581139 
C -2.000462 -1.161816 -2.236068 -0.593012 -2.236068 0 
C -2.236068 0.593012 -2.000462 1.161816 -1.581139 1.581139 
C -1.161816 2.000462 -0.593012 2.236068 0 2.236068 
z
" style="stroke: #5ec962"/>
    </defs>
    <g>
     <use href="#mb0f88179cb" x="574.27791" y="224.390903" style="fill: #5ec962; stroke: #5ec962"/>
    </g>
   </g>
   <g id="text_62">
    <text style="font-size: 10.197px; font-family: 'Liberation Sans', sans-serif; text-anchor: start" x="592.09791" y="226.989653" transform="rotate(-0 592.09791 226.989653)" dx="0.057" textLength="73.746" lengthAdjust="spacingAndGlyphs">Lee et al. 2017</text>
   </g>
   <g id="PathCollection_41">
    <defs>
     <path id="mfc86302e98" d="M 0 2.236068 
C 0.593012 2.236068 1.161816 2.000462 1.581139 1.581139 
C 2.000462 1.161816 2.236068 0.593012 2.236068 0 
C 2.236068 -0.593012 2.000462 -1.161816 1.581139 -1.581139 
C 1.161816 -2.000462 0.593012 -2.236068 0 -2.236068 
C -0.593012 -2.236068 -1.161816 -2.000462 -1.581139 -1.581139 
C -2.000462 -1.161816 -2.236068 -0.593012 -2.236068 0 
C -2.236068 0.593012 -2.000462 1.161816 -1.581139 1.581139 
C -1.161816 2.000462 -0.593012 2.236068 0 2.236068 
z
" style="stroke: #84d44b"/>
    </defs>
    <g>
     <use href="#mfc86302e98" x="574.27791" y="239.367747" style="fill: #84d44b; stroke: #84d44b"/>
    </g>
   </g>
   <g id="text_63">
    <text style="font-size: 10.197px; font-family: 'Liberation Sans', sans-serif; text-anchor: start" x="592.09791" y="241.966497" transform="rotate(-0 592.09791 241.966497)" dx="0.048" textLength="64.487" lengthAdjust="spacingAndGlyphs">Li et al. 2013</text>
   </g>
   <g id="PathCollection_42">
    <defs>
     <path id="m796307b620" d="M 0 2.236068 
C 0.593012 2.236068 1.161816 2.000462 1.581139 1.581139 
C 2.000462 1.161816 2.236068 0.593012 2.236068 0 
C 2.236068 -0.593012 2.000462 -1.161816 1.581139 -1.581139 
C 1.161816 -2.000462 0.593012 -2.236068 0 -2.236068 
C -0.593012 -2.236068 -1.161816 -2.000462 -1.581139 -1.581139 
C -2.000462 -1.161816 -2.236068 -0.593012 -2.236068 0 
C -2.236068 0.593012 -2.000462 1.161816 -1.581139 1.581139 
C -1.161816 2.000462 -0.593012 2.236068 0 2.236068 
z
" style="stroke: #addc30"/>
    </defs>
    <g>
     <use href="#m796307b620" x="574.27791" y="254.34459" style="fill: #addc30; stroke: #addc30"/>
    </g>
   </g>
   <g id="text_64">
    <text style="font-size: 10.197px; font-family: 'Liberation Sans', sans-serif; text-anchor: start" x="592.09791" y="256.94334" transform="rotate(-0 592.09791 256.94334)" dx="0.057" textLength="83.041" lengthAdjust="spacingAndGlyphs">Moon et al. 2015</text>
   </g>
   <g id="PathCollection_43">
    <defs>
     <path id="m0b2bae0a74" d="M 0 2.236068 
C 0.593012 2.236068 1.161816 2.000462 1.581139 1.581139 
C 2.000462 1.161816 2.236068 0.593012 2.236068 0 
C 2.236068 -0.593012 2.000462 -1.161816 1.581139 -1.581139 
C 1.161816 -2.000462 0.593012 -2.236068 0 -2.236068 
C -0.593012 -2.236068 -1.161816 -2.000462 -1.581139 -1.581139 
C -2.000462 -1.161816 -2.236068 -0.593012 -2.236068 0 
C -2.236068 0.593012 -2.000462 1.161816 -1.581139 1.581139 
C -1.161816 2.000462 -0.593012 2.236068 0 2.236068 
z
" style="stroke: #d8e219"/>
    </defs>
    <g>
     <use href="#m0b2bae0a74" x="574.27791" y="269.321434" style="fill: #d8e219; stroke: #d8e219"/>
    </g>
   </g>
   <g id="text_65">
    <text style="font-size: 10.197px; font-family: 'Liberation Sans', sans-serif; text-anchor: start" x="592.09791" y="271.920184" transform="rotate(-0 592.09791 271.920184)" dx="0.046" textLength="108.340" lengthAdjust="spacingAndGlyphs">Movaffagh et al. 2023</text>
   </g>
   <g id="PathCollection_44">
    <defs>
     <path id="m4d0646ed25" d="M 0 2.236068 
C 0.593012 2.236068 1.161816 2.000462 1.581139 1.581139 
C 2.000462 1.161816 2.236068 0.593012 2.236068 0 
C 2.236068 -0.593012 2.000462 -1.161816 1.581139 -1.581139 
C 1.161816 -2.000462 0.593012 -2.236068 0 -2.236068 
C -0.593012 -2.236068 -1.161816 -2.000462 -1.581139 -1.581139 
C -2.000462 -1.161816 -2.236068 -0.593012 -2.236068 0 
C -2.236068 0.593012 -2.000462 1.161816 -1.581139 1.581139 
C -1.161816 2.000462 -0.593012 2.236068 0 2.236068 
z
" style="stroke: #fde725"/>
    </defs>
    <g>
     <use href="#m4d0646ed25" x="574.27791" y="284.298278" style="fill: #fde725; stroke: #fde725"/>
    </g>
   </g>
   <g id="text_66">
    <text style="font-size: 10.197px; font-family: 'Liberation Sans', sans-serif; text-anchor: start" x="592.09791" y="286.897028" transform="rotate(-0 592.09791 286.897028)" dx="0.144" textLength="87.775" lengthAdjust="spacingAndGlyphs">Shiran et al. 2021</text>
   </g>
  </g>
  <g id="legend_2">
   <g id="patch_11">
    <path d="M 560.980896 647.576924 
L 721.243052 647.576924 
Q 723.203052 647.576924 723.203052 645.616924 
L 723.203052 497.900299 
Q 723.203052 495.940299 721.243052 495.940299 
L 560.980896 495.940299 
Q 559.020896 495.940299 559.020896 497.900299 
L 559.020896 645.616924 
Q 559.020896 647.576924 560.980896 647.576924 
z
" style="fill: #ffffff; opacity: 0.8; stroke: #cccccc; stroke-linejoin: miter"/>
   </g>
   <g id="PathCollection_45">
    <g>
     <use href="#md49803a651" x="572.740896" y="504.734267" style="fill: #440154; stroke: #440154"/>
    </g>
   </g>
   <g id="text_67">
    <text style="font-size: 10.094px; font-family: 'Liberation Sans', sans-serif; text-anchor: start" x="590.380896" y="507.306767" transform="rotate(-0 590.380896 507.306767)" dx="0.039" textLength="113.816" lengthAdjust="spacingAndGlyphs">Barthomeuf et al. 2008</text>
   </g>
   <g id="PathCollection_46">
    <defs>
     <path id="mec04457034" d="M 0 2.236068 
C 0.593012 2.236068 1.161816 2.000462 1.581139 1.581139 
C 2.000462 1.161816 2.236068 0.593012 2.236068 0 
C 2.236068 -0.593012 2.000462 -1.161816 1.581139 -1.581139 
C 1.161816 -2.000462 0.593012 -2.236068 0 -2.236068 
C -0.593012 -2.236068 -1.161816 -2.000462 -1.581139 -1.581139 
C -2.000462 -1.161816 -2.236068 -0.593012 -2.236068 0 
C -2.236068 0.593012 -2.000462 1.161816 -1.581139 1.581139 
C -1.161816 2.000462 -0.593012 2.236068 0 2.236068 
z
" style="stroke: #482878"/>
    </defs>
    <g>
     <use href="#mec04457034" x="572.740896" y="519.65783" style="fill: #482878; stroke: #482878"/>
    </g>
   </g>
   <g id="text_68">
    <text style="font-size: 10.094px; font-family: 'Liberation Sans', sans-serif; text-anchor: start" x="590.380896" y="522.23033" transform="rotate(-0 590.380896 522.23033)" dx="-0.007" textLength="91.665" lengthAdjust="spacingAndGlyphs">Gkionis et al. 2021</text>
   </g>
   <g id="PathCollection_47">
    <defs>
     <path id="mde1ea494dc" d="M 0 2.236068 
C 0.593012 2.236068 1.161816 2.000462 1.581139 1.581139 
C 2.000462 1.161816 2.236068 0.593012 2.236068 0 
C 2.236068 -0.593012 2.000462 -1.161816 1.581139 -1.581139 
C 1.161816 -2.000462 0.593012 -2.236068 0 -2.236068 
C -0.593012 -2.236068 -1.161816 -2.000462 -1.581139 -1.581139 
C -2.000462 -1.161816 -2.236068 -0.593012 -2.236068 0 
C -2.236068 0.593012 -2.000462 1.161816 -1.581139 1.581139 
C -1.161816 2.000462 -0.593012 2.236068 0 2.236068 
z
" style="stroke: #3e4989"/>
    </defs>
    <g>
     <use href="#mde1ea494dc" x="572.740896" y="534.581392" style="fill: #3e4989; stroke: #3e4989"/>
    </g>
   </g>
   <g id="text_69">
    <text style="font-size: 10.094px; font-family: 'Liberation Sans', sans-serif; text-anchor: start" x="590.380896" y="537.153892" transform="rotate(-0 590.380896 537.153892)" dx="-0.006" textLength="99.496" lengthAdjust="spacingAndGlyphs">Goudarzi et al. 2022</text>
   </g>
   <g id="PathCollection_48">
    <defs>
     <path id="mda2c840627" d="M 0 2.236068 
C 0.593012 2.236068 1.161816 2.000462 1.581139 1.581139 
C 2.000462 1.161816 2.236068 0.593012 2.236068 0 
C 2.236068 -0.593012 2.000462 -1.161816 1.581139 -1.581139 
C 1.161816 -2.000462 0.593012 -2.236068 0 -2.236068 
C -0.593012 -2.236068 -1.161816 -2.000462 -1.581139 -1.581139 
C -2.000462 -1.161816 -2.236068 -0.593012 -2.236068 0 
C -2.236068 0.593012 -2.000462 1.161816 -1.581139 1.581139 
C -1.161816 2.000462 -0.593012 2.236068 0 2.236068 
z
" style="stroke: #31688e"/>
    </defs>
    <g>
     <use href="#mda2c840627" x="572.740896" y="549.504955" style="fill: #31688e; stroke: #31688e"/>
    </g>
   </g>
   <g id="text_70">
    <text style="font-size: 10.094px; font-family: 'Liberation Sans', sans-serif; text-anchor: start" x="590.380896" y="552.077455" transform="rotate(-0 590.380896 552.077455)" dx="0.043" textLength="105.184" lengthAdjust="spacingAndGlyphs">Hamidinia et al. 2013</text>
   </g>
   <g id="PathCollection_49">
    <g>
     <use href="#mde079d5b97" x="572.740896" y="564.428517" style="fill: #26828e; stroke: #26828e"/>
    </g>
   </g>
   <g id="text_71">
    <text style="font-size: 10.094px; font-family: 'Liberation Sans', sans-serif; text-anchor: start" x="590.380896" y="567.001017" transform="rotate(-0 590.380896 567.001017)" dx="0.054" textLength="121.127" lengthAdjust="spacingAndGlyphs">Kamalkazemi et al. 2023</text>
   </g>
   <g id="PathCollection_50">
    <defs>
     <path id="m08d76474db" d="M 0 2.236068 
C 0.593012 2.236068 1.161816 2.000462 1.581139 1.581139 
C 2.000462 1.161816 2.236068 0.593012 2.236068 0 
C 2.236068 -0.593012 2.000462 -1.161816 1.581139 -1.581139 
C 1.161816 -2.000462 0.593012 -2.236068 0 -2.236068 
C -0.593012 -2.236068 -1.161816 -2.000462 -1.581139 -1.581139 
C -2.000462 -1.161816 -2.236068 -0.593012 -2.236068 0 
C -2.236068 0.593012 -2.000462 1.161816 -1.581139 1.581139 
C -1.161816 2.000462 -0.593012 2.236068 0 2.236068 
z
" style="stroke: #1f9e89"/>
    </defs>
    <g>
     <use href="#m08d76474db" x="572.740896" y="579.35208" style="fill: #1f9e89; stroke: #1f9e89"/>
    </g>
   </g>
   <g id="text_72">
    <text style="font-size: 10.094px; font-family: 'Liberation Sans', sans-serif; text-anchor: start" x="590.380896" y="581.92458" transform="rotate(-0 590.380896 581.92458)" dx="0.059" textLength="128.403" lengthAdjust="spacingAndGlyphs">Khaghanzadeh et al. 2012</text>
   </g>
   <g id="PathCollection_51">
    <defs>
     <path id="mccddd340a4" d="M 0 2.236068 
C 0.593012 2.236068 1.161816 2.000462 1.581139 1.581139 
C 2.000462 1.161816 2.236068 0.593012 2.236068 0 
C 2.236068 -0.593012 2.000462 -1.161816 1.581139 -1.581139 
C 1.161816 -2.000462 0.593012 -2.236068 0 -2.236068 
C -0.593012 -2.236068 -1.161816 -2.000462 -1.581139 -1.581139 
C -2.000462 -1.161816 -2.236068 -0.593012 -2.236068 0 
C -2.236068 0.593012 -2.000462 1.161816 -1.581139 1.581139 
C -1.161816 2.000462 -0.593012 2.236068 0 2.236068 
z
" style="stroke: #35b779"/>
    </defs>
    <g>
     <use href="#mccddd340a4" x="572.740896" y="594.275642" style="fill: #35b779; stroke: #35b779"/>
    </g>
   </g>
   <g id="text_73">
    <text style="font-size: 10.094px; font-family: 'Liberation Sans', sans-serif; text-anchor: start" x="590.380896" y="596.848142" transform="rotate(-0 590.380896 596.848142)" dx="0.057" textLength="91.384" lengthAdjust="spacingAndGlyphs">Rashidi et al. 2016</text>
   </g>
   <g id="PathCollection_52">
    <defs>
     <path id="m1f0bcb5b28" d="M 0 2.236068 
C 0.593012 2.236068 1.161816 2.000462 1.581139 1.581139 
C 2.000462 1.161816 2.236068 0.593012 2.236068 0 
C 2.236068 -0.593012 2.000462 -1.161816 1.581139 -1.581139 
C 1.161816 -2.000462 0.593012 -2.236068 0 -2.236068 
C -0.593012 -2.236068 -1.161816 -2.000462 -1.581139 -1.581139 
C -2.000462 -1.161816 -2.236068 -0.593012 -2.236068 0 
C -2.236068 0.593012 -2.000462 1.161816 -1.581139 1.581139 
C -1.161816 2.000462 -0.593012 2.236068 0 2.236068 
z
" style="stroke: #6ece58"/>
    </defs>
    <g>
     <use href="#m1f0bcb5b28" x="572.740896" y="609.199205" style="fill: #6ece58; stroke: #6ece58"/>
    </g>
   </g>
   <g id="text_74">
    <text style="font-size: 10.094px; font-family: 'Liberation Sans', sans-serif; text-anchor: start" x="590.380896" y="611.771705" transform="rotate(-0 590.380896 611.771705)" dx="0.087" textLength="86.880" lengthAdjust="spacingAndGlyphs">Zhang et al. 2015</text>
   </g>
   <g id="PathCollection_53">
    <defs>
     <path id="m963e9ecc65" d="M 0 2.236068 
C 0.593012 2.236068 1.161816 2.000462 1.581139 1.581139 
C 2.000462 1.161816 2.236068 0.593012 2.236068 0 
C 2.236068 -0.593012 2.000462 -1.161816 1.581139 -1.581139 
C 1.161816 -2.000462 0.593012 -2.236068 0 -2.236068 
C -0.593012 -2.236068 -1.161816 -2.000462 -1.581139 -1.581139 
C -2.000462 -1.161816 -2.236068 -0.593012 -2.236068 0 
C -2.236068 0.593012 -2.000462 1.161816 -1.581139 1.581139 
C -1.161816 2.000462 -0.593012 2.236068 0 2.236068 
z
" style="stroke: #b5de2b"/>
    </defs>
    <g>
     <use href="#m963e9ecc65" x="572.740896" y="624.122767" style="fill: #b5de2b; stroke: #b5de2b"/>
    </g>
   </g>
   <g id="text_75">
    <text style="font-size: 10.094px; font-family: 'Liberation Sans', sans-serif; text-anchor: start" x="590.380896" y="626.695267" transform="rotate(-0 590.380896 626.695267)" dx="0.086" textLength="87.110" lengthAdjust="spacingAndGlyphs">Zhang et al. 2019</text>
   </g>
   <g id="PathCollection_54">
    <g>
     <use href="#m4d0646ed25" x="572.740896" y="639.04633" style="fill: #fde725; stroke: #fde725"/>
    </g>
   </g>
   <g id="text_76">
    <text style="font-size: 10.094px; font-family: 'Liberation Sans', sans-serif; text-anchor: start" x="590.380896" y="641.61883" transform="rotate(-0 590.380896 641.61883)" dx="0.085" textLength="73.657" lengthAdjust="spacingAndGlyphs">Ziai et al. 2012</text>
   </g>
  </g>
 </g>
<g id="pts" transform="scale(1.074627)"><circle cx="167.9" cy="558.1" r="2.08" fill="#1f9f88" stroke="#1f9f88" stroke-width="0.93" fill-opacity="0.30" stroke-opacity="0.30"/>
<circle cx="226.4" cy="551.5" r="2.08" fill="#2e6f8e" stroke="#2e6f8e" stroke-width="0.93" fill-opacity="0.30" stroke-opacity="0.30"/>
<circle cx="113.0" cy="89.3" r="2.08" fill="#1f9f88" stroke="#1f9f88" stroke-width="0.93" fill-opacity="0.35" stroke-opacity="0.35"/>
<circle cx="161.6" cy="71.1" r="2.08" fill="#453781" stroke="#453781" stroke-width="0.93" fill-opacity="0.35" stroke-opacity="0.35"/>
<circle cx="140.8" cy="117.8" r="2.08" fill="#a8db34" stroke="#a8db34" stroke-width="0.93" fill-opacity="0.35" stroke-opacity="0.35"/>
<circle cx="109.4" cy="149.6" r="2.08" fill="#1f9f88" stroke="#1f9f88" stroke-width="0.93" fill-opacity="0.35" stroke-opacity="0.35"/>
<circle cx="120.8" cy="181.1" r="2.08" fill="#1f9f88" stroke="#1f9f88" stroke-width="0.93" fill-opacity="0.35" stroke-opacity="0.35"/>
<circle cx="153.9" cy="175.3" r="2.08" fill="#a8db34" stroke="#a8db34" stroke-width="0.93" fill-opacity="0.35" stroke-opacity="0.35"/>
<circle cx="165.6" cy="204.5" r="2.08" fill="#287d8e" stroke="#287d8e" stroke-width="0.93" fill-opacity="0.35" stroke-opacity="0.35"/>
<circle cx="231.7" cy="164.4" r="2.08" fill="#1f9f88" stroke="#1f9f88" stroke-width="0.93" fill-opacity="0.35" stroke-opacity="0.35"/>
<circle cx="165.6" cy="222.2" r="2.08" fill="#a8db34" stroke="#a8db34" stroke-width="0.93" fill-opacity="0.35" stroke-opacity="0.35"/>
<circle cx="178.2" cy="494.7" r="2.08" fill="#3b528b" stroke="#3b528b" stroke-width="0.93" fill-opacity="0.35" stroke-opacity="0.35"/>
<circle cx="139.7" cy="532.1" r="2.08" fill="#1f9f88" stroke="#1f9f88" stroke-width="0.93" fill-opacity="0.35" stroke-opacity="0.35"/>
<circle cx="152.8" cy="548.2" r="2.08" fill="#1f9f88" stroke="#1f9f88" stroke-width="0.93" fill-opacity="0.35" stroke-opacity="0.35"/>
<circle cx="182.9" cy="568.1" r="2.08" fill="#1f9f88" stroke="#1f9f88" stroke-width="0.93" fill-opacity="0.35" stroke-opacity="0.35"/>
<circle cx="138.5" cy="634.4" r="2.08" fill="#1f9f88" stroke="#1f9f88" stroke-width="0.93" fill-opacity="0.35" stroke-opacity="0.35"/>
<circle cx="119.2" cy="76.3" r="2.08" fill="#453781" stroke="#453781" stroke-width="0.93" fill-opacity="0.40" stroke-opacity="0.40"/>
<circle cx="97.9" cy="77.2" r="2.08" fill="#453781" stroke="#453781" stroke-width="0.93" fill-opacity="0.40" stroke-opacity="0.40"/>
<circle cx="121.8" cy="93.8" r="2.08" fill="#453781" stroke="#453781" stroke-width="0.93" fill-opacity="0.40" stroke-opacity="0.40"/>
<circle cx="134.4" cy="88.9" r="2.08" fill="#453781" stroke="#453781" stroke-width="0.93" fill-opacity="0.40" stroke-opacity="0.40"/>
<circle cx="103.5" cy="104.6" r="2.08" fill="#453781" stroke="#453781" stroke-width="0.93" fill-opacity="0.40" stroke-opacity="0.40"/>
<circle cx="106.4" cy="101.7" r="2.08" fill="#453781" stroke="#453781" stroke-width="0.93" fill-opacity="0.40" stroke-opacity="0.40"/>
<circle cx="101.1" cy="111.1" r="2.08" fill="#1f9f88" stroke="#1f9f88" stroke-width="0.93" fill-opacity="0.40" stroke-opacity="0.40"/>
<circle cx="102.4" cy="113.6" r="2.08" fill="#1f9f88" stroke="#1f9f88" stroke-width="0.93" fill-opacity="0.40" stroke-opacity="0.40"/>
<circle cx="119.8" cy="112.2" r="2.08" fill="#1f9f88" stroke="#1f9f88" stroke-width="0.93" fill-opacity="0.40" stroke-opacity="0.40"/>
<circle cx="119.8" cy="114.9" r="2.08" fill="#440154" stroke="#440154" stroke-width="0.93" fill-opacity="0.40" stroke-opacity="0.40"/>
<circle cx="107.1" cy="132.1" r="2.08" fill="#1f9f88" stroke="#1f9f88" stroke-width="0.93" fill-opacity="0.40" stroke-opacity="0.40"/>
<circle cx="265.9" cy="127.6" r="2.08" fill="#3b528b" stroke="#3b528b" stroke-width="0.93" fill-opacity="0.40" stroke-opacity="0.40"/>
<circle cx="162.1" cy="158.0" r="2.08" fill="#453781" stroke="#453781" stroke-width="0.93" fill-opacity="0.40" stroke-opacity="0.40"/>
<circle cx="165.6" cy="188.1" r="2.08" fill="#287d8e" stroke="#287d8e" stroke-width="0.93" fill-opacity="0.40" stroke-opacity="0.40"/>
<circle cx="165.6" cy="192.0" r="2.08" fill="#287d8e" stroke="#287d8e" stroke-width="0.93" fill-opacity="0.40" stroke-opacity="0.40"/>
<circle cx="165.6" cy="214.4" r="2.08" fill="#287d8e" stroke="#287d8e" stroke-width="0.93" fill-opacity="0.40" stroke-opacity="0.40"/>
<circle cx="279.0" cy="144.3" r="2.08" fill="#fde725" stroke="#fde725" stroke-width="0.93" fill-opacity="0.40" stroke-opacity="0.40"/>
<circle cx="111.1" cy="232.5" r="2.08" fill="#287d8e" stroke="#287d8e" stroke-width="0.93" fill-opacity="0.40" stroke-opacity="0.40"/>
<circle cx="152.3" cy="238.0" r="2.08" fill="#3b528b" stroke="#3b528b" stroke-width="0.93" fill-opacity="0.40" stroke-opacity="0.40"/>
<circle cx="130.7" cy="456.3" r="2.08" fill="#3b528b" stroke="#3b528b" stroke-width="0.93" fill-opacity="0.40" stroke-opacity="0.40"/>
<circle cx="268.1" cy="599.0" r="2.08" fill="#2e6f8e" stroke="#2e6f8e" stroke-width="0.93" fill-opacity="0.40" stroke-opacity="0.40"/>
<circle cx="226.4" cy="536.3" r="2.08" fill="#440154" stroke="#440154" stroke-width="0.93" fill-opacity="0.40" stroke-opacity="0.40"/>
<circle cx="226.4" cy="576.2" r="2.08" fill="#440154" stroke="#440154" stroke-width="0.93" fill-opacity="0.40" stroke-opacity="0.40"/>
<circle cx="278.1" cy="540.4" r="2.08" fill="#482878" stroke="#482878" stroke-width="0.93" fill-opacity="0.40" stroke-opacity="0.40"/>
<circle cx="278.1" cy="546.5" r="2.08" fill="#482878" stroke="#482878" stroke-width="0.93" fill-opacity="0.40" stroke-opacity="0.40"/>
<circle cx="278.1" cy="554.6" r="2.08" fill="#482878" stroke="#482878" stroke-width="0.93" fill-opacity="0.40" stroke-opacity="0.40"/>
<circle cx="104.6" cy="236.6" r="2.08" fill="#287d8e" stroke="#287d8e" stroke-width="0.93" fill-opacity="0.45" stroke-opacity="0.45"/>
<circle cx="142.0" cy="217.3" r="2.08" fill="#453781" stroke="#453781" stroke-width="0.93" fill-opacity="0.45" stroke-opacity="0.45"/>
<circle cx="142.0" cy="224.3" r="2.08" fill="#453781" stroke="#453781" stroke-width="0.93" fill-opacity="0.45" stroke-opacity="0.45"/>
<circle cx="110.6" cy="82.1" r="2.08" fill="#453781" stroke="#453781" stroke-width="0.93" fill-opacity="0.50" stroke-opacity="0.50"/>
<circle cx="106.4" cy="93.8" r="2.08" fill="#1f9f88" stroke="#1f9f88" stroke-width="0.93" fill-opacity="0.50" stroke-opacity="0.50"/>
<circle cx="143.8" cy="114.3" r="2.08" fill="#453781" stroke="#453781" stroke-width="0.93" fill-opacity="0.50" stroke-opacity="0.50"/>
<circle cx="186.4" cy="122.2" r="2.08" fill="#453781" stroke="#453781" stroke-width="0.93" fill-opacity="0.50" stroke-opacity="0.50"/>
<circle cx="109.9" cy="169.5" r="2.08" fill="#287d8e" stroke="#287d8e" stroke-width="0.93" fill-opacity="0.50" stroke-opacity="0.50"/>
<circle cx="151.4" cy="138.5" r="2.08" fill="#1f9f88" stroke="#1f9f88" stroke-width="0.93" fill-opacity="0.50" stroke-opacity="0.50"/>
<circle cx="152.5" cy="148.8" r="2.08" fill="#a8db34" stroke="#a8db34" stroke-width="0.93" fill-opacity="0.50" stroke-opacity="0.50"/>
<circle cx="177.3" cy="162.7" r="2.08" fill="#453781" stroke="#453781" stroke-width="0.93" fill-opacity="0.50" stroke-opacity="0.50"/>
<circle cx="201.6" cy="168.9" r="2.08" fill="#fde725" stroke="#fde725" stroke-width="0.93" fill-opacity="0.50" stroke-opacity="0.50"/>
<circle cx="153.9" cy="195.1" r="2.08" fill="#a8db34" stroke="#a8db34" stroke-width="0.93" fill-opacity="0.50" stroke-opacity="0.50"/>
<circle cx="165.6" cy="198.1" r="2.08" fill="#a8db34" stroke="#a8db34" stroke-width="0.93" fill-opacity="0.50" stroke-opacity="0.50"/>
<circle cx="151.9" cy="204.5" r="2.08" fill="#287d8e" stroke="#287d8e" stroke-width="0.93" fill-opacity="0.50" stroke-opacity="0.50"/>
<circle cx="186.4" cy="196.0" r="2.08" fill="#440154" stroke="#440154" stroke-width="0.93" fill-opacity="0.50" stroke-opacity="0.50"/>
<circle cx="282.2" cy="151.1" r="2.08" fill="#3b528b" stroke="#3b528b" stroke-width="0.93" fill-opacity="0.50" stroke-opacity="0.50"/>
<circle cx="237.2" cy="203.1" r="2.08" fill="#453781" stroke="#453781" stroke-width="0.93" fill-opacity="0.50" stroke-opacity="0.50"/>
<circle cx="88.5" cy="223.8" r="2.08" fill="#287d8e" stroke="#287d8e" stroke-width="0.93" fill-opacity="0.50" stroke-opacity="0.50"/>
<circle cx="92.1" cy="235.1" r="2.08" fill="#287d8e" stroke="#287d8e" stroke-width="0.93" fill-opacity="0.50" stroke-opacity="0.50"/>
<circle cx="95.3" cy="240.1" r="2.08" fill="#287d8e" stroke="#287d8e" stroke-width="0.93" fill-opacity="0.50" stroke-opacity="0.50"/>
<circle cx="98.4" cy="240.7" r="2.08" fill="#287d8e" stroke="#287d8e" stroke-width="0.93" fill-opacity="0.50" stroke-opacity="0.50"/>
<circle cx="268.1" cy="592.0" r="2.08" fill="#440154" stroke="#440154" stroke-width="0.93" fill-opacity="0.50" stroke-opacity="0.50"/>
<circle cx="146.4" cy="453.4" r="2.08" fill="#3b528b" stroke="#3b528b" stroke-width="0.93" fill-opacity="0.50" stroke-opacity="0.50"/>
<circle cx="115.1" cy="572.5" r="2.08" fill="#69cd5b" stroke="#69cd5b" stroke-width="0.93" fill-opacity="0.50" stroke-opacity="0.50"/>
<circle cx="137.9" cy="535.6" r="2.08" fill="#1f9f88" stroke="#1f9f88" stroke-width="0.93" fill-opacity="0.50" stroke-opacity="0.50"/>
<circle cx="184.6" cy="539.5" r="2.08" fill="#a8db34" stroke="#a8db34" stroke-width="0.93" fill-opacity="0.50" stroke-opacity="0.50"/>
<circle cx="192.2" cy="537.9" r="2.08" fill="#a8db34" stroke="#a8db34" stroke-width="0.93" fill-opacity="0.50" stroke-opacity="0.50"/>
<circle cx="180.0" cy="551.5" r="2.08" fill="#482878" stroke="#482878" stroke-width="0.93" fill-opacity="0.50" stroke-opacity="0.50"/>
<circle cx="194.0" cy="554.6" r="2.08" fill="#a8db34" stroke="#a8db34" stroke-width="0.93" fill-opacity="0.50" stroke-opacity="0.50"/>
<circle cx="194.3" cy="568.6" r="2.08" fill="#2e6f8e" stroke="#2e6f8e" stroke-width="0.93" fill-opacity="0.50" stroke-opacity="0.50"/>
<circle cx="153.1" cy="573.3" r="2.08" fill="#fde725" stroke="#fde725" stroke-width="0.93" fill-opacity="0.50" stroke-opacity="0.50"/>
<circle cx="115.5" cy="590.8" r="2.08" fill="#69cd5b" stroke="#69cd5b" stroke-width="0.93" fill-opacity="0.50" stroke-opacity="0.50"/>
<circle cx="92.1" cy="66.4" r="2.08" fill="#a8db34" stroke="#a8db34" stroke-width="0.93" fill-opacity="0.60" stroke-opacity="0.60"/>
<circle cx="87.1" cy="81.6" r="2.08" fill="#453781" stroke="#453781" stroke-width="0.93" fill-opacity="0.60" stroke-opacity="0.60"/>
<circle cx="101.9" cy="91.2" r="2.08" fill="#1f9f88" stroke="#1f9f88" stroke-width="0.93" fill-opacity="0.60" stroke-opacity="0.60"/>
<circle cx="98.2" cy="105.5" r="2.08" fill="#440154" stroke="#440154" stroke-width="0.93" fill-opacity="0.60" stroke-opacity="0.60"/>
<circle cx="113.7" cy="105.0" r="2.08" fill="#453781" stroke="#453781" stroke-width="0.93" fill-opacity="0.60" stroke-opacity="0.60"/>
<circle cx="130.9" cy="105.2" r="2.08" fill="#1f9f88" stroke="#1f9f88" stroke-width="0.93" fill-opacity="0.60" stroke-opacity="0.60"/>
<circle cx="126.2" cy="114.8" r="2.08" fill="#453781" stroke="#453781" stroke-width="0.93" fill-opacity="0.60" stroke-opacity="0.60"/>
<circle cx="128.0" cy="114.0" r="2.08" fill="#453781" stroke="#453781" stroke-width="0.93" fill-opacity="0.60" stroke-opacity="0.60"/>
<circle cx="131.5" cy="129.2" r="2.08" fill="#453781" stroke="#453781" stroke-width="0.93" fill-opacity="0.60" stroke-opacity="0.60"/>
<circle cx="211.1" cy="133.8" r="2.08" fill="#453781" stroke="#453781" stroke-width="0.93" fill-opacity="0.60" stroke-opacity="0.60"/>
<circle cx="97.0" cy="162.1" r="2.08" fill="#287d8e" stroke="#287d8e" stroke-width="0.93" fill-opacity="0.60" stroke-opacity="0.60"/>
<circle cx="103.5" cy="170.0" r="2.08" fill="#287d8e" stroke="#287d8e" stroke-width="0.93" fill-opacity="0.60" stroke-opacity="0.60"/>
<circle cx="151.4" cy="143.2" r="2.08" fill="#453781" stroke="#453781" stroke-width="0.93" fill-opacity="0.60" stroke-opacity="0.60"/>
<circle cx="194.3" cy="180.2" r="2.08" fill="#453781" stroke="#453781" stroke-width="0.93" fill-opacity="0.60" stroke-opacity="0.60"/>
<circle cx="146.7" cy="180.5" r="2.08" fill="#3bbb75" stroke="#3bbb75" stroke-width="0.93" fill-opacity="0.60" stroke-opacity="0.60"/>
<circle cx="211.5" cy="194.6" r="2.08" fill="#440154" stroke="#440154" stroke-width="0.93" fill-opacity="0.60" stroke-opacity="0.60"/>
<circle cx="133.8" cy="222.9" r="2.08" fill="#287d8e" stroke="#287d8e" stroke-width="0.93" fill-opacity="0.60" stroke-opacity="0.60"/>
<circle cx="76.6" cy="461.4" r="2.08" fill="#69cd5b" stroke="#69cd5b" stroke-width="0.93" fill-opacity="0.60" stroke-opacity="0.60"/>
<circle cx="76.6" cy="472.9" r="2.08" fill="#69cd5b" stroke="#69cd5b" stroke-width="0.93" fill-opacity="0.60" stroke-opacity="0.60"/>
<circle cx="79.5" cy="489.0" r="2.08" fill="#69cd5b" stroke="#69cd5b" stroke-width="0.93" fill-opacity="0.60" stroke-opacity="0.60"/>
<circle cx="84.8" cy="500.3" r="2.08" fill="#69cd5b" stroke="#69cd5b" stroke-width="0.93" fill-opacity="0.60" stroke-opacity="0.60"/>
<circle cx="100.9" cy="498.0" r="2.08" fill="#2e6f8e" stroke="#2e6f8e" stroke-width="0.93" fill-opacity="0.60" stroke-opacity="0.60"/>
<circle cx="114.0" cy="478.4" r="2.08" fill="#2e6f8e" stroke="#2e6f8e" stroke-width="0.93" fill-opacity="0.60" stroke-opacity="0.60"/>
<circle cx="268.1" cy="595.3" r="2.08" fill="#440154" stroke="#440154" stroke-width="0.93" fill-opacity="0.60" stroke-opacity="0.60"/>
<circle cx="364.8" cy="599.6" r="2.08" fill="#482878" stroke="#482878" stroke-width="0.93" fill-opacity="0.60" stroke-opacity="0.60"/>
<circle cx="311.9" cy="623.5" r="2.08" fill="#2e6f8e" stroke="#2e6f8e" stroke-width="0.93" fill-opacity="0.60" stroke-opacity="0.60"/>
<circle cx="80.1" cy="509.1" r="2.08" fill="#69cd5b" stroke="#69cd5b" stroke-width="0.93" fill-opacity="0.60" stroke-opacity="0.60"/>
<circle cx="121.8" cy="518.8" r="2.08" fill="#1f9f88" stroke="#1f9f88" stroke-width="0.93" fill-opacity="0.60" stroke-opacity="0.60"/>
<circle cx="95.3" cy="540.3" r="2.08" fill="#69cd5b" stroke="#69cd5b" stroke-width="0.93" fill-opacity="0.60" stroke-opacity="0.60"/>
<circle cx="85.9" cy="560.8" r="2.08" fill="#69cd5b" stroke="#69cd5b" stroke-width="0.93" fill-opacity="0.60" stroke-opacity="0.60"/>
<circle cx="95.9" cy="577.6" r="2.08" fill="#69cd5b" stroke="#69cd5b" stroke-width="0.93" fill-opacity="0.60" stroke-opacity="0.60"/>
<circle cx="152.5" cy="507.1" r="2.08" fill="#3b528b" stroke="#3b528b" stroke-width="0.93" fill-opacity="0.60" stroke-opacity="0.60"/>
<circle cx="152.5" cy="511.4" r="2.08" fill="#482878" stroke="#482878" stroke-width="0.93" fill-opacity="0.60" stroke-opacity="0.60"/>
<circle cx="179.7" cy="520.2" r="2.08" fill="#482878" stroke="#482878" stroke-width="0.93" fill-opacity="0.60" stroke-opacity="0.60"/>
<circle cx="180.0" cy="528.9" r="2.08" fill="#482878" stroke="#482878" stroke-width="0.93" fill-opacity="0.60" stroke-opacity="0.60"/>
<circle cx="137.9" cy="571.3" r="2.08" fill="#1f9f88" stroke="#1f9f88" stroke-width="0.93" fill-opacity="0.60" stroke-opacity="0.60"/>
<circle cx="221.4" cy="540.6" r="2.08" fill="#3b528b" stroke="#3b528b" stroke-width="0.93" fill-opacity="0.60" stroke-opacity="0.60"/>
<circle cx="320.5" cy="566.9" r="2.08" fill="#482878" stroke="#482878" stroke-width="0.93" fill-opacity="0.60" stroke-opacity="0.60"/>
<circle cx="320.5" cy="569.8" r="2.08" fill="#482878" stroke="#482878" stroke-width="0.93" fill-opacity="0.60" stroke-opacity="0.60"/>
<circle cx="320.5" cy="581.1" r="2.08" fill="#482878" stroke="#482878" stroke-width="0.93" fill-opacity="0.60" stroke-opacity="0.60"/>
<circle cx="155.7" cy="595.3" r="2.08" fill="#69cd5b" stroke="#69cd5b" stroke-width="0.93" fill-opacity="0.60" stroke-opacity="0.60"/>
<circle cx="84.0" cy="69.9" r="2.08" fill="#a8db34" stroke="#a8db34" stroke-width="0.93" fill-opacity="0.70" stroke-opacity="0.70"/>
<circle cx="85.9" cy="80.5" r="2.08" fill="#a8db34" stroke="#a8db34" stroke-width="0.93" fill-opacity="0.70" stroke-opacity="0.70"/>
<circle cx="87.5" cy="92.4" r="2.08" fill="#440154" stroke="#440154" stroke-width="0.93" fill-opacity="0.70" stroke-opacity="0.70"/>
<circle cx="108.5" cy="105.0" r="2.08" fill="#3bbb75" stroke="#3bbb75" stroke-width="0.93" fill-opacity="0.70" stroke-opacity="0.70"/>
<circle cx="109.0" cy="107.6" r="2.08" fill="#fde725" stroke="#fde725" stroke-width="0.93" fill-opacity="0.70" stroke-opacity="0.70"/>
<circle cx="86.5" cy="125.1" r="2.08" fill="#287d8e" stroke="#287d8e" stroke-width="0.93" fill-opacity="0.70" stroke-opacity="0.70"/>
<circle cx="89.8" cy="128.3" r="2.08" fill="#287d8e" stroke="#287d8e" stroke-width="0.93" fill-opacity="0.70" stroke-opacity="0.70"/>
<circle cx="93.3" cy="126.9" r="2.08" fill="#3bbb75" stroke="#3bbb75" stroke-width="0.93" fill-opacity="0.70" stroke-opacity="0.70"/>
<circle cx="108.7" cy="128.6" r="2.08" fill="#a8db34" stroke="#a8db34" stroke-width="0.93" fill-opacity="0.70" stroke-opacity="0.70"/>
<circle cx="115.5" cy="132.1" r="2.08" fill="#a8db34" stroke="#a8db34" stroke-width="0.93" fill-opacity="0.70" stroke-opacity="0.70"/>
<circle cx="122.4" cy="127.4" r="2.08" fill="#440154" stroke="#440154" stroke-width="0.93" fill-opacity="0.70" stroke-opacity="0.70"/>
<circle cx="146.4" cy="93.0" r="2.08" fill="#453781" stroke="#453781" stroke-width="0.93" fill-opacity="0.70" stroke-opacity="0.70"/>
<circle cx="137.9" cy="108.4" r="2.08" fill="#1f9f88" stroke="#1f9f88" stroke-width="0.93" fill-opacity="0.70" stroke-opacity="0.70"/>
<circle cx="168.6" cy="119.6" r="2.08" fill="#453781" stroke="#453781" stroke-width="0.93" fill-opacity="0.70" stroke-opacity="0.70"/>
<circle cx="138.3" cy="133.0" r="2.08" fill="#453781" stroke="#453781" stroke-width="0.93" fill-opacity="0.70" stroke-opacity="0.70"/>
<circle cx="93.5" cy="146.3" r="2.08" fill="#287d8e" stroke="#287d8e" stroke-width="0.93" fill-opacity="0.70" stroke-opacity="0.70"/>
<circle cx="116.0" cy="158.9" r="2.08" fill="#a8db34" stroke="#a8db34" stroke-width="0.93" fill-opacity="0.70" stroke-opacity="0.70"/>
<circle cx="108.5" cy="172.6" r="2.08" fill="#440154" stroke="#440154" stroke-width="0.93" fill-opacity="0.70" stroke-opacity="0.70"/>
<circle cx="133.2" cy="181.9" r="2.08" fill="#a8db34" stroke="#a8db34" stroke-width="0.93" fill-opacity="0.70" stroke-opacity="0.70"/>
<circle cx="110.2" cy="188.4" r="2.08" fill="#440154" stroke="#440154" stroke-width="0.93" fill-opacity="0.70" stroke-opacity="0.70"/>
<circle cx="117.8" cy="196.7" r="2.08" fill="#287d8e" stroke="#287d8e" stroke-width="0.93" fill-opacity="0.70" stroke-opacity="0.70"/>
<circle cx="172.1" cy="152.5" r="2.08" fill="#453781" stroke="#453781" stroke-width="0.93" fill-opacity="0.70" stroke-opacity="0.70"/>
<circle cx="176.5" cy="150.8" r="2.08" fill="#453781" stroke="#453781" stroke-width="0.93" fill-opacity="0.70" stroke-opacity="0.70"/>
<circle cx="202.5" cy="171.8" r="2.08" fill="#453781" stroke="#453781" stroke-width="0.93" fill-opacity="0.70" stroke-opacity="0.70"/>
<circle cx="168.9" cy="173.0" r="2.08" fill="#440154" stroke="#440154" stroke-width="0.93" fill-opacity="0.70" stroke-opacity="0.70"/>
<circle cx="144.6" cy="174.9" r="2.08" fill="#440154" stroke="#440154" stroke-width="0.93" fill-opacity="0.70" stroke-opacity="0.70"/>
<circle cx="139.1" cy="185.5" r="2.08" fill="#287d8e" stroke="#287d8e" stroke-width="0.93" fill-opacity="0.70" stroke-opacity="0.70"/>
<circle cx="138.7" cy="189.0" r="2.08" fill="#287d8e" stroke="#287d8e" stroke-width="0.93" fill-opacity="0.70" stroke-opacity="0.70"/>
<circle cx="203.0" cy="203.3" r="2.08" fill="#453781" stroke="#453781" stroke-width="0.93" fill-opacity="0.70" stroke-opacity="0.70"/>
<circle cx="220.6" cy="195.7" r="2.08" fill="#453781" stroke="#453781" stroke-width="0.93" fill-opacity="0.70" stroke-opacity="0.70"/>
<circle cx="236.8" cy="208.0" r="2.08" fill="#440154" stroke="#440154" stroke-width="0.93" fill-opacity="0.70" stroke-opacity="0.70"/>
<circle cx="263.5" cy="211.5" r="2.08" fill="#453781" stroke="#453781" stroke-width="0.93" fill-opacity="0.70" stroke-opacity="0.70"/>
<circle cx="229.0" cy="229.2" r="2.08" fill="#453781" stroke="#453781" stroke-width="0.93" fill-opacity="0.70" stroke-opacity="0.70"/>
<circle cx="99.4" cy="439.9" r="2.08" fill="#482878" stroke="#482878" stroke-width="0.93" fill-opacity="0.70" stroke-opacity="0.70"/>
<circle cx="69.0" cy="449.5" r="2.08" fill="#2e6f8e" stroke="#2e6f8e" stroke-width="0.93" fill-opacity="0.70" stroke-opacity="0.70"/>
<circle cx="78.4" cy="449.5" r="2.08" fill="#2e6f8e" stroke="#2e6f8e" stroke-width="0.93" fill-opacity="0.70" stroke-opacity="0.70"/>
<circle cx="84.4" cy="452.4" r="2.08" fill="#2e6f8e" stroke="#2e6f8e" stroke-width="0.93" fill-opacity="0.70" stroke-opacity="0.70"/>
<circle cx="100.9" cy="450.7" r="2.08" fill="#482878" stroke="#482878" stroke-width="0.93" fill-opacity="0.70" stroke-opacity="0.70"/>
<circle cx="100.0" cy="456.5" r="2.08" fill="#482878" stroke="#482878" stroke-width="0.93" fill-opacity="0.70" stroke-opacity="0.70"/>
<circle cx="80.9" cy="459.8" r="2.08" fill="#2e6f8e" stroke="#2e6f8e" stroke-width="0.93" fill-opacity="0.70" stroke-opacity="0.70"/>
<circle cx="94.1" cy="465.9" r="2.08" fill="#2e6f8e" stroke="#2e6f8e" stroke-width="0.93" fill-opacity="0.70" stroke-opacity="0.70"/>
<circle cx="113.4" cy="469.4" r="2.08" fill="#482878" stroke="#482878" stroke-width="0.93" fill-opacity="0.70" stroke-opacity="0.70"/>
<circle cx="114.0" cy="493.3" r="2.08" fill="#482878" stroke="#482878" stroke-width="0.93" fill-opacity="0.70" stroke-opacity="0.70"/>
<circle cx="224.1" cy="596.1" r="2.08" fill="#3bbb75" stroke="#3bbb75" stroke-width="0.93" fill-opacity="0.70" stroke-opacity="0.70"/>
<circle cx="311.9" cy="611.9" r="2.08" fill="#440154" stroke="#440154" stroke-width="0.93" fill-opacity="0.70" stroke-opacity="0.70"/>
<circle cx="173.5" cy="475.2" r="2.08" fill="#3b528b" stroke="#3b528b" stroke-width="0.93" fill-opacity="0.70" stroke-opacity="0.70"/>
<circle cx="189.7" cy="478.5" r="2.08" fill="#3b528b" stroke="#3b528b" stroke-width="0.93" fill-opacity="0.70" stroke-opacity="0.70"/>
<circle cx="169.1" cy="503.0" r="2.08" fill="#482878" stroke="#482878" stroke-width="0.93" fill-opacity="0.70" stroke-opacity="0.70"/>
<circle cx="120.6" cy="543.8" r="2.08" fill="#69cd5b" stroke="#69cd5b" stroke-width="0.93" fill-opacity="0.70" stroke-opacity="0.70"/>
<circle cx="134.4" cy="563.4" r="2.08" fill="#69cd5b" stroke="#69cd5b" stroke-width="0.93" fill-opacity="0.70" stroke-opacity="0.70"/>
<circle cx="152.3" cy="516.7" r="2.08" fill="#482878" stroke="#482878" stroke-width="0.93" fill-opacity="0.70" stroke-opacity="0.70"/>
<circle cx="143.4" cy="521.4" r="2.08" fill="#fde725" stroke="#fde725" stroke-width="0.93" fill-opacity="0.70" stroke-opacity="0.70"/>
<circle cx="137.6" cy="539.8" r="2.08" fill="#1f9f88" stroke="#1f9f88" stroke-width="0.93" fill-opacity="0.70" stroke-opacity="0.70"/>
<circle cx="137.9" cy="566.0" r="2.08" fill="#1f9f88" stroke="#1f9f88" stroke-width="0.93" fill-opacity="0.70" stroke-opacity="0.70"/>
<circle cx="155.8" cy="614.0" r="2.08" fill="#69cd5b" stroke="#69cd5b" stroke-width="0.93" fill-opacity="0.70" stroke-opacity="0.70"/>
<circle cx="153.1" cy="126.2" r="2.08" fill="#453781" stroke="#453781" stroke-width="0.93" fill-opacity="0.80" stroke-opacity="0.80"/>
<circle cx="93.3" cy="139.1" r="2.08" fill="#440154" stroke="#440154" stroke-width="0.93" fill-opacity="0.80" stroke-opacity="0.80"/>
<circle cx="83.6" cy="142.6" r="2.08" fill="#287d8e" stroke="#287d8e" stroke-width="0.93" fill-opacity="0.80" stroke-opacity="0.80"/>
<circle cx="109.4" cy="145.3" r="2.08" fill="#440154" stroke="#440154" stroke-width="0.93" fill-opacity="0.80" stroke-opacity="0.80"/>
<circle cx="115.7" cy="145.5" r="2.08" fill="#a8db34" stroke="#a8db34" stroke-width="0.93" fill-opacity="0.80" stroke-opacity="0.80"/>
<circle cx="96.8" cy="155.4" r="2.08" fill="#a8db34" stroke="#a8db34" stroke-width="0.93" fill-opacity="0.80" stroke-opacity="0.80"/>
<circle cx="109.1" cy="156.4" r="2.08" fill="#287d8e" stroke="#287d8e" stroke-width="0.93" fill-opacity="0.80" stroke-opacity="0.80"/>
<circle cx="117.5" cy="163.6" r="2.08" fill="#a8db34" stroke="#a8db34" stroke-width="0.93" fill-opacity="0.80" stroke-opacity="0.80"/>
<circle cx="93.8" cy="165.4" r="2.08" fill="#440154" stroke="#440154" stroke-width="0.93" fill-opacity="0.80" stroke-opacity="0.80"/>
<circle cx="98.2" cy="174.7" r="2.08" fill="#440154" stroke="#440154" stroke-width="0.93" fill-opacity="0.80" stroke-opacity="0.80"/>
<circle cx="132.7" cy="142.9" r="2.08" fill="#3bbb75" stroke="#3bbb75" stroke-width="0.93" fill-opacity="0.80" stroke-opacity="0.80"/>
<circle cx="133.5" cy="186.4" r="2.08" fill="#3b528b" stroke="#3b528b" stroke-width="0.93" fill-opacity="0.80" stroke-opacity="0.80"/>
<circle cx="156.6" cy="140.6" r="2.08" fill="#453781" stroke="#453781" stroke-width="0.93" fill-opacity="0.80" stroke-opacity="0.80"/>
<circle cx="161.3" cy="150.5" r="2.08" fill="#453781" stroke="#453781" stroke-width="0.93" fill-opacity="0.80" stroke-opacity="0.80"/>
<circle cx="163.4" cy="147.3" r="2.08" fill="#453781" stroke="#453781" stroke-width="0.93" fill-opacity="0.80" stroke-opacity="0.80"/>
<circle cx="179.4" cy="150.2" r="2.08" fill="#440154" stroke="#440154" stroke-width="0.93" fill-opacity="0.80" stroke-opacity="0.80"/>
<circle cx="198.1" cy="155.2" r="2.08" fill="#453781" stroke="#453781" stroke-width="0.93" fill-opacity="0.80" stroke-opacity="0.80"/>
<circle cx="189.3" cy="166.5" r="2.08" fill="#453781" stroke="#453781" stroke-width="0.93" fill-opacity="0.80" stroke-opacity="0.80"/>
<circle cx="194.2" cy="174.5" r="2.08" fill="#440154" stroke="#440154" stroke-width="0.93" fill-opacity="0.80" stroke-opacity="0.80"/>
<circle cx="190.5" cy="202.4" r="2.08" fill="#3bbb75" stroke="#3bbb75" stroke-width="0.93" fill-opacity="0.80" stroke-opacity="0.80"/>
<circle cx="290.7" cy="237.8" r="2.08" fill="#453781" stroke="#453781" stroke-width="0.93" fill-opacity="0.80" stroke-opacity="0.80"/>
<circle cx="255.9" cy="256.5" r="2.08" fill="#453781" stroke="#453781" stroke-width="0.93" fill-opacity="0.80" stroke-opacity="0.80"/>
<circle cx="80.7" cy="447.8" r="2.08" fill="#482878" stroke="#482878" stroke-width="0.93" fill-opacity="0.80" stroke-opacity="0.80"/>
<circle cx="82.1" cy="450.9" r="2.08" fill="#440154" stroke="#440154" stroke-width="0.93" fill-opacity="0.80" stroke-opacity="0.80"/>
<circle cx="89.8" cy="459.5" r="2.08" fill="#440154" stroke="#440154" stroke-width="0.93" fill-opacity="0.80" stroke-opacity="0.80"/>
<circle cx="90.3" cy="476.2" r="2.08" fill="#440154" stroke="#440154" stroke-width="0.93" fill-opacity="0.80" stroke-opacity="0.80"/>
<circle cx="106.4" cy="500.9" r="2.08" fill="#3bbb75" stroke="#3bbb75" stroke-width="0.93" fill-opacity="0.80" stroke-opacity="0.80"/>
<circle cx="122.5" cy="454.0" r="2.08" fill="#a8db34" stroke="#a8db34" stroke-width="0.93" fill-opacity="0.80" stroke-opacity="0.80"/>
<circle cx="121.0" cy="455.9" r="2.08" fill="#440154" stroke="#440154" stroke-width="0.93" fill-opacity="0.80" stroke-opacity="0.80"/>
<circle cx="128.0" cy="475.8" r="2.08" fill="#482878" stroke="#482878" stroke-width="0.93" fill-opacity="0.80" stroke-opacity="0.80"/>
<circle cx="115.7" cy="478.7" r="2.08" fill="#a8db34" stroke="#a8db34" stroke-width="0.93" fill-opacity="0.80" stroke-opacity="0.80"/>
<circle cx="128.0" cy="485.5" r="2.08" fill="#482878" stroke="#482878" stroke-width="0.93" fill-opacity="0.80" stroke-opacity="0.80"/>
<circle cx="117.5" cy="489.5" r="2.08" fill="#69cd5b" stroke="#69cd5b" stroke-width="0.93" fill-opacity="0.80" stroke-opacity="0.80"/>
<circle cx="134.4" cy="490.4" r="2.08" fill="#2e6f8e" stroke="#2e6f8e" stroke-width="0.93" fill-opacity="0.80" stroke-opacity="0.80"/>
<circle cx="364.8" cy="586.8" r="2.08" fill="#482878" stroke="#482878" stroke-width="0.93" fill-opacity="0.80" stroke-opacity="0.80"/>
<circle cx="311.9" cy="620.6" r="2.08" fill="#440154" stroke="#440154" stroke-width="0.93" fill-opacity="0.80" stroke-opacity="0.80"/>
<circle cx="142.0" cy="472.1" r="2.08" fill="#482878" stroke="#482878" stroke-width="0.93" fill-opacity="0.80" stroke-opacity="0.80"/>
<circle cx="128.0" cy="507.3" r="2.08" fill="#482878" stroke="#482878" stroke-width="0.93" fill-opacity="0.80" stroke-opacity="0.80"/>
<circle cx="117.5" cy="511.4" r="2.08" fill="#69cd5b" stroke="#69cd5b" stroke-width="0.93" fill-opacity="0.80" stroke-opacity="0.80"/>
<circle cx="120.4" cy="511.4" r="2.08" fill="#69cd5b" stroke="#69cd5b" stroke-width="0.93" fill-opacity="0.80" stroke-opacity="0.80"/>
<circle cx="104.1" cy="529.3" r="2.08" fill="#482878" stroke="#482878" stroke-width="0.93" fill-opacity="0.80" stroke-opacity="0.80"/>
<circle cx="107.6" cy="528.9" r="2.08" fill="#482878" stroke="#482878" stroke-width="0.93" fill-opacity="0.80" stroke-opacity="0.80"/>
<circle cx="116.0" cy="527.0" r="2.08" fill="#482878" stroke="#482878" stroke-width="0.93" fill-opacity="0.80" stroke-opacity="0.80"/>
<circle cx="125.4" cy="531.3" r="2.08" fill="#69cd5b" stroke="#69cd5b" stroke-width="0.93" fill-opacity="0.80" stroke-opacity="0.80"/>
<circle cx="126.0" cy="583.5" r="2.08" fill="#69cd5b" stroke="#69cd5b" stroke-width="0.93" fill-opacity="0.80" stroke-opacity="0.80"/>
<circle cx="155.1" cy="507.6" r="2.08" fill="#2e6f8e" stroke="#2e6f8e" stroke-width="0.93" fill-opacity="0.80" stroke-opacity="0.80"/>
<circle cx="155.1" cy="518.8" r="2.08" fill="#440154" stroke="#440154" stroke-width="0.93" fill-opacity="0.80" stroke-opacity="0.80"/>
<circle cx="169.1" cy="515.5" r="2.08" fill="#482878" stroke="#482878" stroke-width="0.93" fill-opacity="0.80" stroke-opacity="0.80"/>
<circle cx="169.8" cy="516.1" r="2.08" fill="#482878" stroke="#482878" stroke-width="0.93" fill-opacity="0.80" stroke-opacity="0.80"/>
<circle cx="178.8" cy="566.5" r="2.08" fill="#3bbb75" stroke="#3bbb75" stroke-width="0.93" fill-opacity="0.80" stroke-opacity="0.80"/>
<circle cx="194.0" cy="571.3" r="2.08" fill="#440154" stroke="#440154" stroke-width="0.93" fill-opacity="0.80" stroke-opacity="0.80"/>
<circle cx="209.2" cy="585.0" r="2.08" fill="#3bbb75" stroke="#3bbb75" stroke-width="0.93" fill-opacity="0.80" stroke-opacity="0.80"/>
<circle cx="221.4" cy="566.7" r="2.08" fill="#482878" stroke="#482878" stroke-width="0.93" fill-opacity="0.80" stroke-opacity="0.80"/>
<circle cx="221.4" cy="576.5" r="2.08" fill="#482878" stroke="#482878" stroke-width="0.93" fill-opacity="0.80" stroke-opacity="0.80"/>
<circle cx="267.2" cy="560.1" r="2.08" fill="#3b528b" stroke="#3b528b" stroke-width="0.93" fill-opacity="0.80" stroke-opacity="0.80"/>
<circle cx="134.4" cy="600.8" r="2.08" fill="#69cd5b" stroke="#69cd5b" stroke-width="0.93" fill-opacity="0.80" stroke-opacity="0.80"/>
<circle cx="194.2" cy="594.7" r="2.08" fill="#440154" stroke="#440154" stroke-width="0.93" fill-opacity="0.80" stroke-opacity="0.80"/>
<circle cx="194.2" cy="603.5" r="2.08" fill="#2e6f8e" stroke="#2e6f8e" stroke-width="0.93" fill-opacity="0.80" stroke-opacity="0.80"/>
<circle cx="133.2" cy="147.8" r="2.08" fill="#3bbb75" stroke="#3bbb75" stroke-width="0.93" fill-opacity="0.90" stroke-opacity="0.90"/>
<circle cx="187.2" cy="138.2" r="2.08" fill="#3b528b" stroke="#3b528b" stroke-width="0.93" fill-opacity="0.90" stroke-opacity="0.90"/>
<circle cx="182.6" cy="160.7" r="2.08" fill="#453781" stroke="#453781" stroke-width="0.93" fill-opacity="0.90" stroke-opacity="0.90"/>
<circle cx="158.4" cy="200.6" r="2.08" fill="#3bbb75" stroke="#3bbb75" stroke-width="0.93" fill-opacity="0.90" stroke-opacity="0.90"/>
<circle cx="225.5" cy="175.3" r="2.08" fill="#3b528b" stroke="#3b528b" stroke-width="0.93" fill-opacity="0.90" stroke-opacity="0.90"/>
<circle cx="263.2" cy="224.0" r="2.08" fill="#440154" stroke="#440154" stroke-width="0.93" fill-opacity="0.90" stroke-opacity="0.90"/>
<circle cx="80.1" cy="440.8" r="2.08" fill="#482878" stroke="#482878" stroke-width="0.93" fill-opacity="0.90" stroke-opacity="0.90"/>
<circle cx="80.1" cy="443.1" r="2.08" fill="#482878" stroke="#482878" stroke-width="0.93" fill-opacity="0.90" stroke-opacity="0.90"/>
<circle cx="121.0" cy="459.5" r="2.08" fill="#482878" stroke="#482878" stroke-width="0.93" fill-opacity="0.90" stroke-opacity="0.90"/>
<circle cx="128.3" cy="462.4" r="2.08" fill="#482878" stroke="#482878" stroke-width="0.93" fill-opacity="0.90" stroke-opacity="0.90"/>
<circle cx="119.6" cy="467.0" r="2.08" fill="#2e6f8e" stroke="#2e6f8e" stroke-width="0.93" fill-opacity="0.90" stroke-opacity="0.90"/>
<circle cx="124.8" cy="470.9" r="2.08" fill="#2e6f8e" stroke="#2e6f8e" stroke-width="0.93" fill-opacity="0.90" stroke-opacity="0.90"/>
<circle cx="237.2" cy="598.2" r="2.08" fill="#440154" stroke="#440154" stroke-width="0.93" fill-opacity="0.90" stroke-opacity="0.90"/>
<circle cx="237.2" cy="613.0" r="2.08" fill="#440154" stroke="#440154" stroke-width="0.93" fill-opacity="0.90" stroke-opacity="0.90"/>
<circle cx="265.0" cy="590.8" r="2.08" fill="#482878" stroke="#482878" stroke-width="0.93" fill-opacity="0.90" stroke-opacity="0.90"/>
<circle cx="140.8" cy="467.6" r="2.08" fill="#482878" stroke="#482878" stroke-width="0.93" fill-opacity="0.90" stroke-opacity="0.90"/>
<circle cx="184.1" cy="486.9" r="2.08" fill="#482878" stroke="#482878" stroke-width="0.93" fill-opacity="0.90" stroke-opacity="0.90"/>
<circle cx="185.0" cy="491.3" r="2.08" fill="#482878" stroke="#482878" stroke-width="0.93" fill-opacity="0.90" stroke-opacity="0.90"/>
<circle cx="133.5" cy="523.1" r="2.08" fill="#fde725" stroke="#fde725" stroke-width="0.93" fill-opacity="0.90" stroke-opacity="0.90"/>
<circle cx="137.1" cy="509.9" r="2.08" fill="#1f9f88" stroke="#1f9f88" stroke-width="0.93" fill-opacity="0.90" stroke-opacity="0.90"/>
<circle cx="154.9" cy="516.1" r="2.08" fill="#440154" stroke="#440154" stroke-width="0.93" fill-opacity="0.90" stroke-opacity="0.90"/>
<circle cx="212.1" cy="526.6" r="2.08" fill="#482878" stroke="#482878" stroke-width="0.93" fill-opacity="0.90" stroke-opacity="0.90"/>
<circle cx="137.3" cy="525.8" r="2.08" fill="#1f9f88" stroke="#1f9f88" stroke-width="0.93" fill-opacity="0.90" stroke-opacity="0.90"/>
<circle cx="143.2" cy="548.2" r="2.08" fill="#482878" stroke="#482878" stroke-width="0.93" fill-opacity="0.90" stroke-opacity="0.90"/>
<circle cx="145.7" cy="547.6" r="2.08" fill="#482878" stroke="#482878" stroke-width="0.93" fill-opacity="0.90" stroke-opacity="0.90"/>
<circle cx="198.1" cy="557.6" r="2.08" fill="#2e6f8e" stroke="#2e6f8e" stroke-width="0.93" fill-opacity="0.90" stroke-opacity="0.90"/>
<circle cx="221.4" cy="564.6" r="2.08" fill="#482878" stroke="#482878" stroke-width="0.93" fill-opacity="0.90" stroke-opacity="0.90"/>
<circle cx="178.2" cy="587.9" r="2.08" fill="#69cd5b" stroke="#69cd5b" stroke-width="0.93" fill-opacity="0.90" stroke-opacity="0.90"/>
<circle cx="168.5" cy="608.9" r="2.08" fill="#69cd5b" stroke="#69cd5b" stroke-width="0.93" fill-opacity="0.90" stroke-opacity="0.90"/>
<circle cx="178.6" cy="625.3" r="2.08" fill="#69cd5b" stroke="#69cd5b" stroke-width="0.93" fill-opacity="0.90" stroke-opacity="0.90"/>
<circle cx="198.4" cy="629.6" r="2.08" fill="#69cd5b" stroke="#69cd5b" stroke-width="0.93" fill-opacity="0.90" stroke-opacity="0.90"/>
<circle cx="198.4" cy="639.3" r="2.08" fill="#69cd5b" stroke="#69cd5b" stroke-width="0.93" fill-opacity="0.90" stroke-opacity="0.90"/>
<circle cx="76.6" cy="67.6" r="2.08" fill="#287d8e" stroke="#287d8e" stroke-width="0.93" fill-opacity="1.00" stroke-opacity="1.00"/>
<circle cx="107.9" cy="73.1" r="2.08" fill="#287d8e" stroke="#287d8e" stroke-width="0.93" fill-opacity="1.00" stroke-opacity="1.00"/>
<circle cx="116.0" cy="70.2" r="2.08" fill="#287d8e" stroke="#287d8e" stroke-width="0.93" fill-opacity="1.00" stroke-opacity="1.00"/>
<circle cx="79.3" cy="80.7" r="2.08" fill="#287d8e" stroke="#287d8e" stroke-width="0.93" fill-opacity="1.00" stroke-opacity="1.00"/>
<circle cx="77.2" cy="83.8" r="2.08" fill="#287d8e" stroke="#287d8e" stroke-width="0.93" fill-opacity="1.00" stroke-opacity="1.00"/>
<circle cx="82.8" cy="86.5" r="2.08" fill="#287d8e" stroke="#287d8e" stroke-width="0.93" fill-opacity="1.00" stroke-opacity="1.00"/>
<circle cx="79.5" cy="89.5" r="2.08" fill="#287d8e" stroke="#287d8e" stroke-width="0.93" fill-opacity="1.00" stroke-opacity="1.00"/>
<circle cx="99.8" cy="85.4" r="2.08" fill="#3bbb75" stroke="#3bbb75" stroke-width="0.93" fill-opacity="1.00" stroke-opacity="1.00"/>
<circle cx="100.8" cy="93.0" r="2.08" fill="#1f9f88" stroke="#1f9f88" stroke-width="0.93" fill-opacity="1.00" stroke-opacity="1.00"/>
<circle cx="80.5" cy="92.4" r="2.08" fill="#fde725" stroke="#fde725" stroke-width="0.93" fill-opacity="1.00" stroke-opacity="1.00"/>
<circle cx="84.2" cy="95.3" r="2.08" fill="#fde725" stroke="#fde725" stroke-width="0.93" fill-opacity="1.00" stroke-opacity="1.00"/>
<circle cx="102.3" cy="98.0" r="2.08" fill="#d2e21b" stroke="#d2e21b" stroke-width="0.93" fill-opacity="1.00" stroke-opacity="1.00"/>
<circle cx="77.2" cy="102.9" r="2.08" fill="#287d8e" stroke="#287d8e" stroke-width="0.93" fill-opacity="1.00" stroke-opacity="1.00"/>
<circle cx="78.9" cy="104.6" r="2.08" fill="#440154" stroke="#440154" stroke-width="0.93" fill-opacity="1.00" stroke-opacity="1.00"/>
<circle cx="86.3" cy="103.8" r="2.08" fill="#a8db34" stroke="#a8db34" stroke-width="0.93" fill-opacity="1.00" stroke-opacity="1.00"/>
<circle cx="92.6" cy="104.3" r="2.08" fill="#fde725" stroke="#fde725" stroke-width="0.93" fill-opacity="1.00" stroke-opacity="1.00"/>
<circle cx="111.1" cy="104.1" r="2.08" fill="#440154" stroke="#440154" stroke-width="0.93" fill-opacity="1.00" stroke-opacity="1.00"/>
<circle cx="134.4" cy="104.1" r="2.08" fill="#440154" stroke="#440154" stroke-width="0.93" fill-opacity="1.00" stroke-opacity="1.00"/>
<circle cx="80.5" cy="109.4" r="2.08" fill="#440154" stroke="#440154" stroke-width="0.93" fill-opacity="1.00" stroke-opacity="1.00"/>
<circle cx="80.9" cy="115.5" r="2.08" fill="#440154" stroke="#440154" stroke-width="0.93" fill-opacity="1.00" stroke-opacity="1.00"/>
<circle cx="84.9" cy="116.5" r="2.08" fill="#3bbb75" stroke="#3bbb75" stroke-width="0.93" fill-opacity="1.00" stroke-opacity="1.00"/>
<circle cx="106.7" cy="110.5" r="2.08" fill="#3bbb75" stroke="#3bbb75" stroke-width="0.93" fill-opacity="1.00" stroke-opacity="1.00"/>
<circle cx="96.1" cy="116.0" r="2.08" fill="#a8db34" stroke="#a8db34" stroke-width="0.93" fill-opacity="1.00" stroke-opacity="1.00"/>
<circle cx="96.1" cy="118.6" r="2.08" fill="#a8db34" stroke="#a8db34" stroke-width="0.93" fill-opacity="1.00" stroke-opacity="1.00"/>
<circle cx="108.5" cy="116.0" r="2.08" fill="#287d8e" stroke="#287d8e" stroke-width="0.93" fill-opacity="1.00" stroke-opacity="1.00"/>
<circle cx="128.0" cy="109.5" r="2.08" fill="#d2e21b" stroke="#d2e21b" stroke-width="0.93" fill-opacity="1.00" stroke-opacity="1.00"/>
<circle cx="116.5" cy="119.6" r="2.08" fill="#287d8e" stroke="#287d8e" stroke-width="0.93" fill-opacity="1.00" stroke-opacity="1.00"/>
<circle cx="126.2" cy="119.8" r="2.08" fill="#287d8e" stroke="#287d8e" stroke-width="0.93" fill-opacity="1.00" stroke-opacity="1.00"/>
<circle cx="116.9" cy="126.6" r="2.08" fill="#287d8e" stroke="#287d8e" stroke-width="0.93" fill-opacity="1.00" stroke-opacity="1.00"/>
<circle cx="127.4" cy="128.0" r="2.08" fill="#287d8e" stroke="#287d8e" stroke-width="0.93" fill-opacity="1.00" stroke-opacity="1.00"/>
<circle cx="128.0" cy="130.9" r="2.08" fill="#287d8e" stroke="#287d8e" stroke-width="0.93" fill-opacity="1.00" stroke-opacity="1.00"/>
<circle cx="84.8" cy="133.5" r="2.08" fill="#440154" stroke="#440154" stroke-width="0.93" fill-opacity="1.00" stroke-opacity="1.00"/>
<circle cx="87.1" cy="133.8" r="2.08" fill="#a8db34" stroke="#a8db34" stroke-width="0.93" fill-opacity="1.00" stroke-opacity="1.00"/>
<circle cx="146.7" cy="115.1" r="2.08" fill="#440154" stroke="#440154" stroke-width="0.93" fill-opacity="1.00" stroke-opacity="1.00"/>
<circle cx="166.8" cy="113.0" r="2.08" fill="#3b528b" stroke="#3b528b" stroke-width="0.93" fill-opacity="1.00" stroke-opacity="1.00"/>
<circle cx="178.0" cy="106.7" r="2.08" fill="#d2e21b" stroke="#d2e21b" stroke-width="0.93" fill-opacity="1.00" stroke-opacity="1.00"/>
<circle cx="167.5" cy="128.3" r="2.08" fill="#1f9f88" stroke="#1f9f88" stroke-width="0.93" fill-opacity="1.00" stroke-opacity="1.00"/>
<circle cx="163.0" cy="135.0" r="2.08" fill="#287d8e" stroke="#287d8e" stroke-width="0.93" fill-opacity="1.00" stroke-opacity="1.00"/>
<circle cx="131.5" cy="150.5" r="2.08" fill="#3b528b" stroke="#3b528b" stroke-width="0.93" fill-opacity="1.00" stroke-opacity="1.00"/>
<circle cx="131.7" cy="160.3" r="2.08" fill="#3b528b" stroke="#3b528b" stroke-width="0.93" fill-opacity="1.00" stroke-opacity="1.00"/>
<circle cx="161.3" cy="141.1" r="2.08" fill="#440154" stroke="#440154" stroke-width="0.93" fill-opacity="1.00" stroke-opacity="1.00"/>
<circle cx="141.1" cy="150.5" r="2.08" fill="#fde725" stroke="#fde725" stroke-width="0.93" fill-opacity="1.00" stroke-opacity="1.00"/>
<circle cx="156.6" cy="149.4" r="2.08" fill="#1f9f88" stroke="#1f9f88" stroke-width="0.93" fill-opacity="1.00" stroke-opacity="1.00"/>
<circle cx="176.5" cy="156.0" r="2.08" fill="#1f9f88" stroke="#1f9f88" stroke-width="0.93" fill-opacity="1.00" stroke-opacity="1.00"/>
<circle cx="182.9" cy="142.9" r="2.08" fill="#3b528b" stroke="#3b528b" stroke-width="0.93" fill-opacity="1.00" stroke-opacity="1.00"/>
<circle cx="203.3" cy="161.3" r="2.08" fill="#1f9f88" stroke="#1f9f88" stroke-width="0.93" fill-opacity="1.00" stroke-opacity="1.00"/>
<circle cx="204.7" cy="166.9" r="2.08" fill="#1f9f88" stroke="#1f9f88" stroke-width="0.93" fill-opacity="1.00" stroke-opacity="1.00"/>
<circle cx="213.5" cy="155.4" r="2.08" fill="#3b528b" stroke="#3b528b" stroke-width="0.93" fill-opacity="1.00" stroke-opacity="1.00"/>
<circle cx="172.4" cy="168.9" r="2.08" fill="#440154" stroke="#440154" stroke-width="0.93" fill-opacity="1.00" stroke-opacity="1.00"/>
<circle cx="187.3" cy="172.6" r="2.08" fill="#440154" stroke="#440154" stroke-width="0.93" fill-opacity="1.00" stroke-opacity="1.00"/>
<circle cx="198.3" cy="176.1" r="2.08" fill="#440154" stroke="#440154" stroke-width="0.93" fill-opacity="1.00" stroke-opacity="1.00"/>
<circle cx="206.0" cy="176.2" r="2.08" fill="#3b528b" stroke="#3b528b" stroke-width="0.93" fill-opacity="1.00" stroke-opacity="1.00"/>
<circle cx="209.5" cy="182.3" r="2.08" fill="#3b528b" stroke="#3b528b" stroke-width="0.93" fill-opacity="1.00" stroke-opacity="1.00"/>
<circle cx="214.4" cy="186.4" r="2.08" fill="#3b528b" stroke="#3b528b" stroke-width="0.93" fill-opacity="1.00" stroke-opacity="1.00"/>
<circle cx="141.8" cy="180.3" r="2.08" fill="#3bbb75" stroke="#3bbb75" stroke-width="0.93" fill-opacity="1.00" stroke-opacity="1.00"/>
<circle cx="140.3" cy="182.3" r="2.08" fill="#3bbb75" stroke="#3bbb75" stroke-width="0.93" fill-opacity="1.00" stroke-opacity="1.00"/>
<circle cx="220.3" cy="175.9" r="2.08" fill="#440154" stroke="#440154" stroke-width="0.93" fill-opacity="1.00" stroke-opacity="1.00"/>
<circle cx="222.9" cy="190.7" r="2.08" fill="#1f9f88" stroke="#1f9f88" stroke-width="0.93" fill-opacity="1.00" stroke-opacity="1.00"/>
<circle cx="229.6" cy="190.1" r="2.08" fill="#453781" stroke="#453781" stroke-width="0.93" fill-opacity="1.00" stroke-opacity="1.00"/>
<circle cx="247.7" cy="214.4" r="2.08" fill="#3b528b" stroke="#3b528b" stroke-width="0.93" fill-opacity="1.00" stroke-opacity="1.00"/>
<circle cx="209.7" cy="220.5" r="2.08" fill="#1f9f88" stroke="#1f9f88" stroke-width="0.93" fill-opacity="1.00" stroke-opacity="1.00"/>
<circle cx="223.2" cy="295.9" r="2.08" fill="#1f9f88" stroke="#1f9f88" stroke-width="0.93" fill-opacity="1.00" stroke-opacity="1.00"/>
<circle cx="86.8" cy="443.7" r="2.08" fill="#482878" stroke="#482878" stroke-width="0.93" fill-opacity="1.00" stroke-opacity="1.00"/>
<circle cx="82.1" cy="457.9" r="2.08" fill="#440154" stroke="#440154" stroke-width="0.93" fill-opacity="1.00" stroke-opacity="1.00"/>
<circle cx="79.3" cy="464.7" r="2.08" fill="#fde725" stroke="#fde725" stroke-width="0.93" fill-opacity="1.00" stroke-opacity="1.00"/>
<circle cx="84.2" cy="476.4" r="2.08" fill="#fde725" stroke="#fde725" stroke-width="0.93" fill-opacity="1.00" stroke-opacity="1.00"/>
<circle cx="90.3" cy="482.2" r="2.08" fill="#3bbb75" stroke="#3bbb75" stroke-width="0.93" fill-opacity="1.00" stroke-opacity="1.00"/>
<circle cx="94.1" cy="491.8" r="2.08" fill="#fde725" stroke="#fde725" stroke-width="0.93" fill-opacity="1.00" stroke-opacity="1.00"/>
<circle cx="114.6" cy="459.6" r="2.08" fill="#a8db34" stroke="#a8db34" stroke-width="0.93" fill-opacity="1.00" stroke-opacity="1.00"/>
<circle cx="127.4" cy="460.0" r="2.08" fill="#482878" stroke="#482878" stroke-width="0.93" fill-opacity="1.00" stroke-opacity="1.00"/>
<circle cx="122.7" cy="475.2" r="2.08" fill="#440154" stroke="#440154" stroke-width="0.93" fill-opacity="1.00" stroke-opacity="1.00"/>
<circle cx="130.9" cy="480.7" r="2.08" fill="#440154" stroke="#440154" stroke-width="0.93" fill-opacity="1.00" stroke-opacity="1.00"/>
<circle cx="122.7" cy="483.6" r="2.08" fill="#440154" stroke="#440154" stroke-width="0.93" fill-opacity="1.00" stroke-opacity="1.00"/>
<circle cx="130.9" cy="499.7" r="2.08" fill="#440154" stroke="#440154" stroke-width="0.93" fill-opacity="1.00" stroke-opacity="1.00"/>
<circle cx="154.5" cy="461.4" r="2.08" fill="#a8db34" stroke="#a8db34" stroke-width="0.93" fill-opacity="1.00" stroke-opacity="1.00"/>
<circle cx="164.0" cy="477.3" r="2.08" fill="#482878" stroke="#482878" stroke-width="0.93" fill-opacity="1.00" stroke-opacity="1.00"/>
<circle cx="164.2" cy="479.3" r="2.08" fill="#482878" stroke="#482878" stroke-width="0.93" fill-opacity="1.00" stroke-opacity="1.00"/>
<circle cx="170.6" cy="481.3" r="2.08" fill="#482878" stroke="#482878" stroke-width="0.93" fill-opacity="1.00" stroke-opacity="1.00"/>
<circle cx="170.6" cy="483.4" r="2.08" fill="#482878" stroke="#482878" stroke-width="0.93" fill-opacity="1.00" stroke-opacity="1.00"/>
<circle cx="171.2" cy="486.5" r="2.08" fill="#482878" stroke="#482878" stroke-width="0.93" fill-opacity="1.00" stroke-opacity="1.00"/>
<circle cx="184.1" cy="481.9" r="2.08" fill="#482878" stroke="#482878" stroke-width="0.93" fill-opacity="1.00" stroke-opacity="1.00"/>
<circle cx="165.6" cy="497.1" r="2.08" fill="#440154" stroke="#440154" stroke-width="0.93" fill-opacity="1.00" stroke-opacity="1.00"/>
<circle cx="165.6" cy="501.5" r="2.08" fill="#440154" stroke="#440154" stroke-width="0.93" fill-opacity="1.00" stroke-opacity="1.00"/>
<circle cx="212.1" cy="485.7" r="2.08" fill="#482878" stroke="#482878" stroke-width="0.93" fill-opacity="1.00" stroke-opacity="1.00"/>
<circle cx="123.3" cy="516.1" r="2.08" fill="#2e6f8e" stroke="#2e6f8e" stroke-width="0.93" fill-opacity="1.00" stroke-opacity="1.00"/>
<circle cx="131.3" cy="516.9" r="2.08" fill="#3bbb75" stroke="#3bbb75" stroke-width="0.93" fill-opacity="1.00" stroke-opacity="1.00"/>
<circle cx="114.6" cy="530.9" r="2.08" fill="#fde725" stroke="#fde725" stroke-width="0.93" fill-opacity="1.00" stroke-opacity="1.00"/>
<circle cx="86.3" cy="532.8" r="2.08" fill="#fde725" stroke="#fde725" stroke-width="0.93" fill-opacity="1.00" stroke-opacity="1.00"/>
<circle cx="134.4" cy="548.8" r="2.08" fill="#2e6f8e" stroke="#2e6f8e" stroke-width="0.93" fill-opacity="1.00" stroke-opacity="1.00"/>
<circle cx="162.4" cy="511.4" r="2.08" fill="#2e6f8e" stroke="#2e6f8e" stroke-width="0.93" fill-opacity="1.00" stroke-opacity="1.00"/>
<circle cx="173.9" cy="513.8" r="2.08" fill="#440154" stroke="#440154" stroke-width="0.93" fill-opacity="1.00" stroke-opacity="1.00"/>
<circle cx="160.1" cy="520.2" r="2.08" fill="#69cd5b" stroke="#69cd5b" stroke-width="0.93" fill-opacity="1.00" stroke-opacity="1.00"/>
<circle cx="167.7" cy="521.7" r="2.08" fill="#2e6f8e" stroke="#2e6f8e" stroke-width="0.93" fill-opacity="1.00" stroke-opacity="1.00"/>
<circle cx="198.1" cy="522.5" r="2.08" fill="#440154" stroke="#440154" stroke-width="0.93" fill-opacity="1.00" stroke-opacity="1.00"/>
<circle cx="203.3" cy="520.4" r="2.08" fill="#3b528b" stroke="#3b528b" stroke-width="0.93" fill-opacity="1.00" stroke-opacity="1.00"/>
<circle cx="212.1" cy="510.6" r="2.08" fill="#482878" stroke="#482878" stroke-width="0.93" fill-opacity="1.00" stroke-opacity="1.00"/>
<circle cx="178.0" cy="530.9" r="2.08" fill="#2e6f8e" stroke="#2e6f8e" stroke-width="0.93" fill-opacity="1.00" stroke-opacity="1.00"/>
<circle cx="160.5" cy="541.8" r="2.08" fill="#69cd5b" stroke="#69cd5b" stroke-width="0.93" fill-opacity="1.00" stroke-opacity="1.00"/>
<circle cx="163.0" cy="546.2" r="2.08" fill="#69cd5b" stroke="#69cd5b" stroke-width="0.93" fill-opacity="1.00" stroke-opacity="1.00"/>
<circle cx="168.3" cy="550.3" r="2.08" fill="#69cd5b" stroke="#69cd5b" stroke-width="0.93" fill-opacity="1.00" stroke-opacity="1.00"/>
<circle cx="147.5" cy="552.6" r="2.08" fill="#3bbb75" stroke="#3bbb75" stroke-width="0.93" fill-opacity="1.00" stroke-opacity="1.00"/>
<circle cx="198.1" cy="551.4" r="2.08" fill="#440154" stroke="#440154" stroke-width="0.93" fill-opacity="1.00" stroke-opacity="1.00"/>
<circle cx="163.3" cy="566.3" r="2.08" fill="#69cd5b" stroke="#69cd5b" stroke-width="0.93" fill-opacity="1.00" stroke-opacity="1.00"/>
<circle cx="187.9" cy="566.9" r="2.08" fill="#482878" stroke="#482878" stroke-width="0.93" fill-opacity="1.00" stroke-opacity="1.00"/>
<circle cx="193.0" cy="566.0" r="2.08" fill="#482878" stroke="#482878" stroke-width="0.93" fill-opacity="1.00" stroke-opacity="1.00"/>
<circle cx="202.7" cy="564.0" r="2.08" fill="#482878" stroke="#482878" stroke-width="0.93" fill-opacity="1.00" stroke-opacity="1.00"/>
<circle cx="235.1" cy="536.5" r="2.08" fill="#3b528b" stroke="#3b528b" stroke-width="0.93" fill-opacity="1.00" stroke-opacity="1.00"/>
<circle cx="237.2" cy="580.7" r="2.08" fill="#2e6f8e" stroke="#2e6f8e" stroke-width="0.93" fill-opacity="1.00" stroke-opacity="1.00"/>
<circle cx="265.0" cy="543.5" r="2.08" fill="#482878" stroke="#482878" stroke-width="0.93" fill-opacity="1.00" stroke-opacity="1.00"/>
<circle cx="265.0" cy="565.5" r="2.08" fill="#482878" stroke="#482878" stroke-width="0.93" fill-opacity="1.00" stroke-opacity="1.00"/>
<circle cx="155.7" cy="590.3" r="2.08" fill="#2e6f8e" stroke="#2e6f8e" stroke-width="0.93" fill-opacity="1.00" stroke-opacity="1.00"/></g></svg>
</body></html>
